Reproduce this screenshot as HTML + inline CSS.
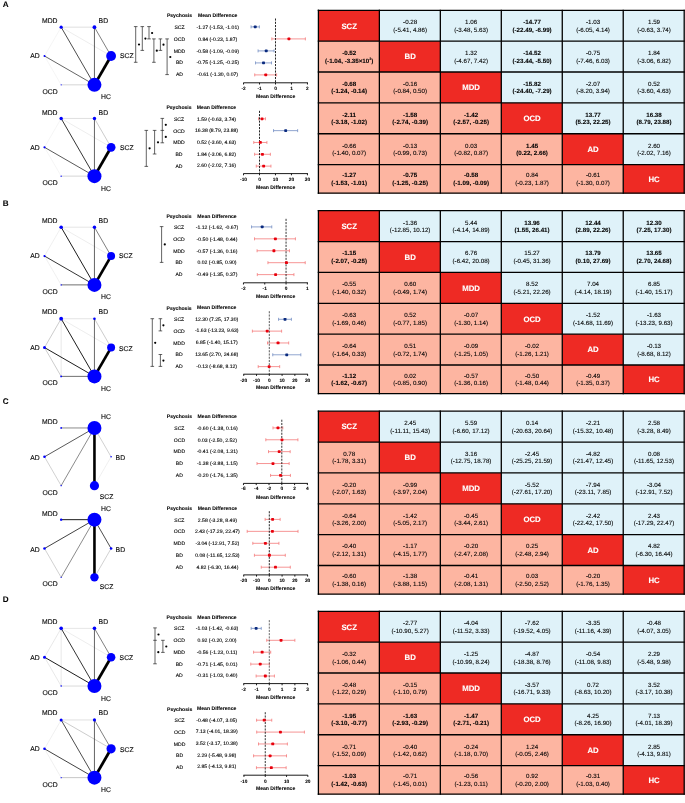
<!DOCTYPE html>
<html lang="en"><head><meta charset="utf-8"><title>Network meta-analysis figure</title>
<style>html,body{margin:0;padding:0;background:#fff}svg{display:block}text{font-family:"Liberation Sans", sans-serif;text-rendering:geometricPrecision;stroke:#000;stroke-width:0.11px}.n{stroke-width:0.14px}.m{stroke-width:0.09px}.b{stroke-width:0.08px}.w{stroke:#fff;stroke-width:0.1px}</style>
</head><body>
<svg width="685" height="803" viewBox="0 0 685 803">
<rect width="685" height="803" fill="#fff"/>
<text x="2.7" y="7.0" font-size="8.1" class="b" font-weight="bold">A</text>
<text x="2.7" y="205.8" font-size="8.1" class="b" font-weight="bold">B</text>
<text x="2.7" y="404.1" font-size="8.1" class="b" font-weight="bold">C</text>
<text x="2.7" y="602.2" font-size="8.1" class="b" font-weight="bold">D</text>
<g>
<line x1="61.15" y1="27.16" x2="44.5" y2="56" stroke="#dedede" stroke-width="0.3"/>
<line x1="44.5" y1="56" x2="61.15" y2="84.84" stroke="#dedede" stroke-width="0.3"/>
<line x1="61.15" y1="27.16" x2="94.45" y2="27.16" stroke="#cbcbcb" stroke-width="0.6"/>
<line x1="61.15" y1="27.16" x2="111.1" y2="56" stroke="#cbcbcb" stroke-width="0.35"/>
<line x1="94.45" y1="84.84" x2="61.15" y2="84.84" stroke="#cbcbcb" stroke-width="0.8"/>
<line x1="94.45" y1="27.16" x2="111.1" y2="56" stroke="#2a2a2a" stroke-width="0.6"/>
<line x1="94.45" y1="84.84" x2="94.45" y2="27.16" stroke="#111" stroke-width="0.65"/>
<line x1="94.45" y1="84.84" x2="61.15" y2="27.16" stroke="#111" stroke-width="0.75"/>
<line x1="94.45" y1="84.84" x2="44.5" y2="56" stroke="#111" stroke-width="0.65"/>
<line x1="94.45" y1="84.84" x2="111.1" y2="56" stroke="#000" stroke-width="2.8"/>
<circle cx="94.45" cy="84.84" r="7.0" fill="#0000ff"/>
<circle cx="111.1" cy="56" r="4.9" fill="#0000ff"/>
<circle cx="94.45" cy="27.16" r="1.9" fill="#0000ff"/>
<circle cx="61.15" cy="27.16" r="1.6" fill="#0000ff"/>
<circle cx="44.5" cy="56" r="1.0" fill="#0000ff"/>
<circle cx="61.15" cy="84.84" r="0.6" fill="#0000ff"/>
<text class="n" x="57.5" y="22.8" font-size="6.8" text-anchor="end" fill="#111">MDD</text>
<text class="n" x="98.6" y="22.8" font-size="6.8" text-anchor="start" fill="#111">BD</text>
<text class="n" x="120.0" y="58.4" font-size="6.8" text-anchor="start" fill="#111">SCZ</text>
<text class="n" x="39.6" y="58.4" font-size="6.8" text-anchor="end" fill="#111">AD</text>
<text class="n" x="57.6" y="93.7" font-size="6.8" text-anchor="end" fill="#111">OCD</text>
<text class="n" x="101.0" y="99.3" font-size="6.8" text-anchor="start" fill="#111">HC</text>
</g>
<g>
<line x1="61.15" y1="118.46" x2="44.5" y2="147.3" stroke="#dedede" stroke-width="0.3"/>
<line x1="44.5" y1="147.3" x2="61.15" y2="176.14" stroke="#dedede" stroke-width="0.3"/>
<line x1="61.15" y1="118.46" x2="94.45" y2="118.46" stroke="#cbcbcb" stroke-width="0.6"/>
<line x1="61.15" y1="118.46" x2="111.1" y2="147.3" stroke="#cbcbcb" stroke-width="0.35"/>
<line x1="94.45" y1="176.14" x2="61.15" y2="176.14" stroke="#cbcbcb" stroke-width="0.8"/>
<line x1="94.45" y1="118.46" x2="111.1" y2="147.3" stroke="#8c8c8c" stroke-width="0.45"/>
<line x1="94.45" y1="176.14" x2="94.45" y2="118.46" stroke="#111" stroke-width="0.65"/>
<line x1="94.45" y1="176.14" x2="61.15" y2="118.46" stroke="#111" stroke-width="0.85"/>
<line x1="94.45" y1="176.14" x2="44.5" y2="147.3" stroke="#111" stroke-width="0.7"/>
<line x1="94.45" y1="176.14" x2="111.1" y2="147.3" stroke="#000" stroke-width="2.8"/>
<circle cx="94.45" cy="176.14" r="7.0" fill="#0000ff"/>
<circle cx="111.1" cy="147.3" r="4.4" fill="#0000ff"/>
<circle cx="94.45" cy="118.46" r="1.7" fill="#0000ff"/>
<circle cx="61.15" cy="118.46" r="1.7" fill="#0000ff"/>
<circle cx="44.5" cy="147.3" r="1.1" fill="#0000ff"/>
<circle cx="61.15" cy="176.14" r="0.7" fill="#0000ff"/>
<text class="n" x="57.5" y="114.6" font-size="6.8" text-anchor="end" fill="#111">MDD</text>
<text class="n" x="98.6" y="114.6" font-size="6.8" text-anchor="start" fill="#111">BD</text>
<text class="n" x="120.0" y="149.7" font-size="6.8" text-anchor="start" fill="#111">SCZ</text>
<text class="n" x="39.6" y="149.7" font-size="6.8" text-anchor="end" fill="#111">AD</text>
<text class="n" x="57.6" y="185.3" font-size="6.8" text-anchor="end" fill="#111">OCD</text>
<text class="n" x="101.0" y="190.9" font-size="6.8" text-anchor="start" fill="#111">HC</text>
</g>
<g>
<line x1="61.15" y1="227.21" x2="44.5" y2="256.05" stroke="#cbcbcb" stroke-width="0.3"/>
<line x1="44.5" y1="256.05" x2="61.15" y2="284.89" stroke="#cbcbcb" stroke-width="0.3"/>
<line x1="61.15" y1="227.21" x2="94.45" y2="227.21" stroke="#cbcbcb" stroke-width="0.5"/>
<line x1="61.15" y1="227.21" x2="111.1" y2="256.05" stroke="#cbcbcb" stroke-width="0.35"/>
<line x1="94.45" y1="284.89" x2="61.15" y2="284.89" stroke="#111" stroke-width="0.6"/>
<line x1="94.45" y1="227.21" x2="111.1" y2="256.05" stroke="#2a2a2a" stroke-width="0.6"/>
<line x1="94.45" y1="284.89" x2="94.45" y2="227.21" stroke="#111" stroke-width="0.65"/>
<line x1="94.45" y1="284.89" x2="61.15" y2="227.21" stroke="#111" stroke-width="0.95"/>
<line x1="94.45" y1="284.89" x2="44.5" y2="256.05" stroke="#111" stroke-width="0.85"/>
<line x1="94.45" y1="284.89" x2="111.1" y2="256.05" stroke="#000" stroke-width="2.7"/>
<circle cx="94.45" cy="284.89" r="7.0" fill="#0000ff"/>
<circle cx="111.1" cy="256.05" r="4.0" fill="#0000ff"/>
<circle cx="94.45" cy="227.21" r="1.7" fill="#0000ff"/>
<circle cx="61.15" cy="227.21" r="1.8" fill="#0000ff"/>
<circle cx="44.5" cy="256.05" r="1.1" fill="#0000ff"/>
<circle cx="61.15" cy="284.89" r="0.7" fill="#0000ff"/>
<text class="n" x="57.5" y="223.15" font-size="6.8" text-anchor="end" fill="#111">MDD</text>
<text class="n" x="98.6" y="223.15" font-size="6.8" text-anchor="start" fill="#111">BD</text>
<text class="n" x="119.0" y="258.45" font-size="6.8" text-anchor="start" fill="#111">SCZ</text>
<text class="n" x="39.6" y="258.45" font-size="6.8" text-anchor="end" fill="#111">AD</text>
<text class="n" x="57.6" y="293.75" font-size="6.8" text-anchor="end" fill="#111">OCD</text>
<text class="n" x="101.0" y="299.35" font-size="6.8" text-anchor="start" fill="#111">HC</text>
</g>
<g>
<line x1="61.15" y1="318.71" x2="61.15" y2="376.39" stroke="#cbcbcb" stroke-width="0.45"/>
<line x1="61.15" y1="318.71" x2="44.5" y2="347.55" stroke="#8c8c8c" stroke-width="0.45"/>
<line x1="44.5" y1="347.55" x2="61.15" y2="376.39" stroke="#8c8c8c" stroke-width="0.45"/>
<line x1="61.15" y1="318.71" x2="94.45" y2="318.71" stroke="#cbcbcb" stroke-width="0.5"/>
<line x1="61.15" y1="318.71" x2="111.1" y2="347.55" stroke="#cbcbcb" stroke-width="0.35"/>
<line x1="94.45" y1="376.39" x2="61.15" y2="376.39" stroke="#111" stroke-width="0.6"/>
<line x1="94.45" y1="318.71" x2="111.1" y2="347.55" stroke="#8c8c8c" stroke-width="0.45"/>
<line x1="94.45" y1="376.39" x2="94.45" y2="318.71" stroke="#2a2a2a" stroke-width="0.7"/>
<line x1="94.45" y1="376.39" x2="61.15" y2="318.71" stroke="#111" stroke-width="0.95"/>
<line x1="94.45" y1="376.39" x2="44.5" y2="347.55" stroke="#111" stroke-width="0.95"/>
<line x1="94.45" y1="376.39" x2="111.1" y2="347.55" stroke="#000" stroke-width="2.7"/>
<circle cx="94.45" cy="376.39" r="7.0" fill="#0000ff"/>
<circle cx="111.1" cy="347.55" r="4.0" fill="#0000ff"/>
<circle cx="94.45" cy="318.71" r="1.3" fill="#0000ff"/>
<circle cx="61.15" cy="318.71" r="1.9" fill="#0000ff"/>
<circle cx="44.5" cy="347.55" r="1.5" fill="#0000ff"/>
<circle cx="61.15" cy="376.39" r="0.9" fill="#0000ff"/>
<text class="n" x="57.5" y="314.35" font-size="6.8" text-anchor="end" fill="#111">MDD</text>
<text class="n" x="98.6" y="313.95" font-size="6.8" text-anchor="start" fill="#111">BD</text>
<text class="n" x="119.0" y="350.85" font-size="6.8" text-anchor="start" fill="#111">SCZ</text>
<text class="n" x="39.6" y="349.95" font-size="6.8" text-anchor="end" fill="#111">AD</text>
<text class="n" x="57.6" y="385.25" font-size="6.8" text-anchor="end" fill="#111">OCD</text>
<text class="n" x="101.0" y="390.85" font-size="6.8" text-anchor="start" fill="#111">HC</text>
</g>
<g>
<line x1="111.1" y1="456.8" x2="94.45" y2="485.64" stroke="#cbcbcb" stroke-width="0.3"/>
<line x1="44.5" y1="456.8" x2="61.15" y2="485.64" stroke="#8c8c8c" stroke-width="0.4"/>
<line x1="94.45" y1="427.96" x2="61.15" y2="485.64" stroke="#2a2a2a" stroke-width="0.55"/>
<line x1="94.45" y1="427.96" x2="111.1" y2="456.8" stroke="#8c8c8c" stroke-width="0.4"/>
<line x1="94.45" y1="427.96" x2="61.15" y2="427.96" stroke="#8c8c8c" stroke-width="1.0"/>
<line x1="94.45" y1="427.96" x2="44.5" y2="456.8" stroke="#111" stroke-width="0.7"/>
<line x1="94.45" y1="427.96" x2="94.45" y2="485.64" stroke="#000" stroke-width="2.6"/>
<circle cx="94.45" cy="427.96" r="7.0" fill="#0000ff"/>
<circle cx="94.45" cy="485.64" r="4.6" fill="#0000ff"/>
<circle cx="111.1" cy="456.8" r="0.8" fill="#0000ff"/>
<circle cx="61.15" cy="427.96" r="0.9" fill="#0000ff"/>
<circle cx="44.5" cy="456.8" r="1.3" fill="#0000ff"/>
<circle cx="61.15" cy="485.64" r="0.7" fill="#0000ff"/>
<text class="n" x="57.6" y="423.7" font-size="6.8" text-anchor="end" fill="#111">MDD</text>
<text class="n" x="101.0" y="418.8" font-size="6.8" text-anchor="start" fill="#111">HC</text>
<text class="n" x="115.6" y="459.8" font-size="6.8" text-anchor="start" fill="#111">BD</text>
<text class="n" x="39.6" y="459.9" font-size="6.8" text-anchor="end" fill="#111">AD</text>
<text class="n" x="57.6" y="495" font-size="6.8" text-anchor="end" fill="#111">OCD</text>
<text class="n" x="99.8" y="498.6" font-size="6.8" text-anchor="start" fill="#111">SCZ</text>
</g>
<g>
<line x1="111.1" y1="548.5" x2="94.45" y2="577.34" stroke="#8c8c8c" stroke-width="0.4"/>
<line x1="44.5" y1="548.5" x2="61.15" y2="577.34" stroke="#8c8c8c" stroke-width="0.4"/>
<line x1="94.45" y1="519.66" x2="61.15" y2="577.34" stroke="#2a2a2a" stroke-width="0.55"/>
<line x1="94.45" y1="519.66" x2="111.1" y2="548.5" stroke="#111" stroke-width="0.75"/>
<line x1="94.45" y1="519.66" x2="61.15" y2="519.66" stroke="#111" stroke-width="0.95"/>
<line x1="94.45" y1="519.66" x2="44.5" y2="548.5" stroke="#111" stroke-width="0.8"/>
<line x1="94.45" y1="519.66" x2="94.45" y2="577.34" stroke="#000" stroke-width="2.6"/>
<circle cx="94.45" cy="519.66" r="7.0" fill="#0000ff"/>
<circle cx="94.45" cy="577.34" r="4.2" fill="#0000ff"/>
<circle cx="111.1" cy="548.5" r="1.3" fill="#0000ff"/>
<circle cx="61.15" cy="519.66" r="1.2" fill="#0000ff"/>
<circle cx="44.5" cy="548.5" r="1.3" fill="#0000ff"/>
<circle cx="61.15" cy="577.34" r="0.6" fill="#0000ff"/>
<text class="n" x="57.6" y="515.7" font-size="6.8" text-anchor="end" fill="#111">MDD</text>
<text class="n" x="101.0" y="510.5" font-size="6.8" text-anchor="start" fill="#111">HC</text>
<text class="n" x="115.6" y="551.5" font-size="6.8" text-anchor="start" fill="#111">BD</text>
<text class="n" x="39.6" y="552.3" font-size="6.8" text-anchor="end" fill="#111">AD</text>
<text class="n" x="57.6" y="586" font-size="6.8" text-anchor="end" fill="#111">OCD</text>
<text class="n" x="99.8" y="589.3" font-size="6.8" text-anchor="start" fill="#111">SCZ</text>
</g>
<g>
<line x1="61.15" y1="628.36" x2="61.15" y2="686.04" stroke="#cbcbcb" stroke-width="0.45"/>
<line x1="61.15" y1="628.36" x2="44.5" y2="657.2" stroke="#bdbdbd" stroke-width="0.35"/>
<line x1="44.5" y1="657.2" x2="61.15" y2="686.04" stroke="#bdbdbd" stroke-width="0.35"/>
<line x1="61.15" y1="628.36" x2="94.45" y2="628.36" stroke="#cbcbcb" stroke-width="0.5"/>
<line x1="61.15" y1="628.36" x2="111.1" y2="657.2" stroke="#cbcbcb" stroke-width="0.35"/>
<line x1="94.45" y1="686.04" x2="61.15" y2="686.04" stroke="#cbcbcb" stroke-width="0.7"/>
<line x1="94.45" y1="628.36" x2="111.1" y2="657.2" stroke="#2a2a2a" stroke-width="0.6"/>
<line x1="94.45" y1="686.04" x2="94.45" y2="628.36" stroke="#111" stroke-width="0.65"/>
<line x1="94.45" y1="686.04" x2="61.15" y2="628.36" stroke="#111" stroke-width="0.85"/>
<line x1="94.45" y1="686.04" x2="44.5" y2="657.2" stroke="#111" stroke-width="0.95"/>
<line x1="94.45" y1="686.04" x2="111.1" y2="657.2" stroke="#000" stroke-width="2.7"/>
<circle cx="94.45" cy="686.04" r="7.0" fill="#0000ff"/>
<circle cx="111.1" cy="657.2" r="4.3" fill="#0000ff"/>
<circle cx="94.45" cy="628.36" r="1.8" fill="#0000ff"/>
<circle cx="61.15" cy="628.36" r="1.8" fill="#0000ff"/>
<circle cx="44.5" cy="657.2" r="1.5" fill="#0000ff"/>
<circle cx="61.15" cy="686.04" r="0.8" fill="#0000ff"/>
<text class="n" x="57.5" y="623.6" font-size="6.8" text-anchor="end" fill="#111">MDD</text>
<text class="n" x="98.6" y="624" font-size="6.8" text-anchor="start" fill="#111">BD</text>
<text class="n" x="119.6" y="659.9" font-size="6.8" text-anchor="start" fill="#111">SCZ</text>
<text class="n" x="39.6" y="659.6" font-size="6.8" text-anchor="end" fill="#111">AD</text>
<text class="n" x="57.6" y="694.9" font-size="6.8" text-anchor="end" fill="#111">OCD</text>
<text class="n" x="101.0" y="700.5" font-size="6.8" text-anchor="start" fill="#111">HC</text>
</g>
<g>
<line x1="61.15" y1="719.96" x2="44.5" y2="748.8" stroke="#cbcbcb" stroke-width="0.3"/>
<line x1="44.5" y1="748.8" x2="61.15" y2="777.64" stroke="#cbcbcb" stroke-width="0.3"/>
<line x1="61.15" y1="719.96" x2="94.45" y2="719.96" stroke="#cbcbcb" stroke-width="0.6"/>
<line x1="61.15" y1="719.96" x2="111.1" y2="748.8" stroke="#8c8c8c" stroke-width="0.45"/>
<line x1="94.45" y1="777.64" x2="61.15" y2="777.64" stroke="#8c8c8c" stroke-width="0.5"/>
<line x1="94.45" y1="719.96" x2="111.1" y2="748.8" stroke="#2a2a2a" stroke-width="0.6"/>
<line x1="94.45" y1="777.64" x2="94.45" y2="719.96" stroke="#111" stroke-width="0.65"/>
<line x1="94.45" y1="777.64" x2="61.15" y2="719.96" stroke="#111" stroke-width="0.75"/>
<line x1="94.45" y1="777.64" x2="44.5" y2="748.8" stroke="#111" stroke-width="0.8"/>
<line x1="94.45" y1="777.64" x2="111.1" y2="748.8" stroke="#000" stroke-width="2.8"/>
<circle cx="94.45" cy="777.64" r="7.0" fill="#0000ff"/>
<circle cx="111.1" cy="748.8" r="4.6" fill="#0000ff"/>
<circle cx="94.45" cy="719.96" r="1.6" fill="#0000ff"/>
<circle cx="61.15" cy="719.96" r="1.5" fill="#0000ff"/>
<circle cx="44.5" cy="748.8" r="1.3" fill="#0000ff"/>
<circle cx="61.15" cy="777.64" r="0.6" fill="#0000ff"/>
<text class="n" x="57.5" y="715.1" font-size="6.8" text-anchor="end" fill="#111">MDD</text>
<text class="n" x="98.6" y="715.1" font-size="6.8" text-anchor="start" fill="#111">BD</text>
<text class="n" x="120.0" y="751.9" font-size="6.8" text-anchor="start" fill="#111">SCZ</text>
<text class="n" x="39.6" y="751.2" font-size="6.8" text-anchor="end" fill="#111">AD</text>
<text class="n" x="57.6" y="786.5" font-size="6.8" text-anchor="end" fill="#111">OCD</text>
<text class="n" x="101.0" y="792.1" font-size="6.8" text-anchor="start" fill="#111">HC</text>
</g>
<g>
<text x="179.5" y="17.4" font-size="5.1" class="b" font-weight="bold" text-anchor="middle">Psychosis</text>
<text x="217.7" y="17.4" font-size="5.1" class="b" font-weight="bold" text-anchor="middle">Mean Difference</text>
<path d="M135.7 26.6V62.3M133.9 26.6h3.6M133.9 62.3h3.6" stroke="#222" stroke-width="0.7" fill="none"/>
<circle cx="139" cy="44.5" r="1.1" fill="#000"/>
<path d="M142.3 26.6V50.4M140.5 26.6h3.6M140.5 50.4h3.6" stroke="#222" stroke-width="0.7" fill="none"/>
<circle cx="145.4" cy="38.6" r="1.1" fill="#000"/>
<path d="M149 26.6V38.9M147.2 26.6h3.6M147.2 38.9h3.6" stroke="#222" stroke-width="0.7" fill="none"/>
<circle cx="152.1" cy="33" r="1.1" fill="#000"/>
<path d="M153.9 38.9V62.3M152.1 38.9h3.6M152.1 62.3h3.6" stroke="#222" stroke-width="0.7" fill="none"/>
<circle cx="156.8" cy="50.7" r="1.1" fill="#000"/>
<path d="M160.4 38.9V50.4M158.6 38.9h3.6M158.6 50.4h3.6" stroke="#222" stroke-width="0.7" fill="none"/>
<circle cx="163.5" cy="44.7" r="1.1" fill="#000"/>
<path d="M167.1 38.9V74.6M165.3 38.9h3.6M165.3 74.6h3.6" stroke="#222" stroke-width="0.7" fill="none"/>
<circle cx="170.3" cy="57" r="1.1" fill="#000"/>
<text x="179.5" y="29.13" font-size="5.1" text-anchor="middle">SCZ</text>
<text x="217.7" y="29.13" font-size="5.1" text-anchor="middle">-1.27 (-1.53, -1.01)</text>
<path d="M251.06 26.9H259.37M251.06 25.4v3M259.37 25.4v3" stroke="#748ec3" stroke-width="0.8" fill="none"/>
<text x="179.5" y="40.91" font-size="5.1" text-anchor="middle">OCD</text>
<text x="217.7" y="40.91" font-size="5.1" text-anchor="middle">0.84 (-0.23, 1.87)</text>
<path d="M271.83 38.9H305.37M271.83 37.4v3M305.37 37.4v3" stroke="#f47a7a" stroke-width="0.8" fill="none"/>
<text x="179.5" y="52.69" font-size="5.1" text-anchor="middle">MDD</text>
<text x="217.7" y="52.69" font-size="5.1" text-anchor="middle">-0.58 (-1.09, -0.09)</text>
<path d="M258.09 50.9H274.06M258.09 49.4v3M274.06 49.4v3" stroke="#748ec3" stroke-width="0.8" fill="none"/>
<text x="179.5" y="64.47" font-size="5.1" text-anchor="middle">BD</text>
<text x="217.7" y="64.47" font-size="5.1" text-anchor="middle">-0.75 (-1.25, -0.25)</text>
<path d="M255.53 62.9H271.51M255.53 61.4v3M271.51 61.4v3" stroke="#748ec3" stroke-width="0.8" fill="none"/>
<text x="179.5" y="76.25" font-size="5.1" text-anchor="middle">AD</text>
<text x="217.7" y="76.25" font-size="5.1" text-anchor="middle">-0.61 (-1.30, 0.07)</text>
<path d="M254.73 74.9H276.62M254.73 73.4v3M276.62 73.4v3" stroke="#f47a7a" stroke-width="0.8" fill="none"/>
<line x1="275.5" y1="18.5" x2="275.5" y2="82.8" stroke="#000" stroke-width="0.85" stroke-dasharray="2.1 1.15"/>
<rect x="253.76" y="25.5" width="2.9" height="2.8" rx="0.7" fill="#0a2a7e"/>
<rect x="287.47" y="37.5" width="2.9" height="2.8" rx="0.7" fill="#e8000c"/>
<rect x="264.78" y="49.5" width="2.9" height="2.8" rx="0.7" fill="#0a2a7e"/>
<rect x="262.07" y="61.5" width="2.9" height="2.8" rx="0.7" fill="#0a2a7e"/>
<rect x="264.31" y="73.5" width="2.9" height="2.8" rx="0.7" fill="#e8000c"/>
<path d="M243.4 82.8H307.9M243.55 82.8v1.7M259.53 82.8v1.7M275.5 82.8v1.7M291.48 82.8v1.7M307.45 82.8v1.7" stroke="#000" stroke-width="0.9" fill="none"/>
<text x="243.55" y="89.8" font-size="4.8" class="b" font-weight="bold" text-anchor="middle">-2</text>
<text x="259.53" y="89.8" font-size="4.8" class="b" font-weight="bold" text-anchor="middle">-1</text>
<text x="275.5" y="89.8" font-size="4.8" class="b" font-weight="bold" text-anchor="middle">0</text>
<text x="291.48" y="89.8" font-size="4.8" class="b" font-weight="bold" text-anchor="middle">1</text>
<text x="307.45" y="89.8" font-size="4.8" class="b" font-weight="bold" text-anchor="middle">2</text>
<text x="275.6" y="97.6" font-size="5.1" class="b" font-weight="bold" text-anchor="middle">Mean Difference</text>
</g>
<g>
<text x="179" y="109.15" font-size="5.1" class="b" font-weight="bold" text-anchor="middle">Psychosis</text>
<text x="216.5" y="108.85" font-size="5.1" class="b" font-weight="bold" text-anchor="middle">Mean Difference</text>
<path d="M146.3 130.4V166.4M144.5 130.4h3.6M144.5 166.4h3.6" stroke="#222" stroke-width="0.7" fill="none"/>
<circle cx="149.6" cy="148.3" r="1.1" fill="#000"/>
<path d="M154.6 130.4V154M152.8 130.4h3.6M152.8 154h3.6" stroke="#222" stroke-width="0.7" fill="none"/>
<circle cx="158" cy="142.3" r="1.1" fill="#000"/>
<path d="M162.3 118.4V142.8M160.5 118.4h3.6M160.5 130.4h3.6M160.5 142.8h3.6" stroke="#222" stroke-width="0.7" fill="none"/>
<circle cx="165.8" cy="124.8" r="1.1" fill="#000"/>
<circle cx="165.8" cy="136.9" r="1.1" fill="#000"/>
<text x="179" y="121.13" font-size="5.1" text-anchor="middle">SCZ</text>
<text x="216.5" y="120.83" font-size="5.1" text-anchor="middle">1.59 (-0.63, 3.74)</text>
<path d="M258.49 118.8H265.47M258.49 117.3v3M265.47 117.3v3" stroke="#f47a7a" stroke-width="0.8" fill="none"/>
<text x="179" y="132.78" font-size="5.1" text-anchor="middle">OCD</text>
<text x="216.5" y="132.48" font-size="5.1" text-anchor="middle">16.38 (8.79, 23.88)</text>
<path d="M273.54 130.63H297.65M273.54 129.13v3M297.65 129.13v3" stroke="#748ec3" stroke-width="0.8" fill="none"/>
<text x="179" y="144.43" font-size="5.1" text-anchor="middle">MDD</text>
<text x="216.5" y="144.13" font-size="5.1" text-anchor="middle">0.52 (-3.60, 4.63)</text>
<path d="M253.75 142.46H266.9M253.75 140.96v3M266.9 140.96v3" stroke="#f47a7a" stroke-width="0.8" fill="none"/>
<text x="179" y="156.08" font-size="5.1" text-anchor="middle">BD</text>
<text x="216.5" y="155.78" font-size="5.1" text-anchor="middle">1.84 (-3.06, 6.82)</text>
<path d="M254.61 154.29H270.39M254.61 152.79v3M270.39 152.79v3" stroke="#f47a7a" stroke-width="0.8" fill="none"/>
<text x="179" y="167.73" font-size="5.1" text-anchor="middle">AD</text>
<text x="216.5" y="167.43" font-size="5.1" text-anchor="middle">2.60 (-2.02, 7.16)</text>
<path d="M256.27 166.12H270.94M256.27 164.62v3M270.94 164.62v3" stroke="#f47a7a" stroke-width="0.8" fill="none"/>
<line x1="259.5" y1="110.8" x2="259.5" y2="173.6" stroke="#000" stroke-width="0.85" stroke-dasharray="2.1 1.15"/>
<rect x="260.59" y="117.4" width="2.9" height="2.8" rx="0.7" fill="#e8000c"/>
<rect x="284.22" y="129.23" width="2.9" height="2.8" rx="0.7" fill="#0a2a7e"/>
<rect x="258.88" y="141.06" width="2.9" height="2.8" rx="0.7" fill="#e8000c"/>
<rect x="260.99" y="152.89" width="2.9" height="2.8" rx="0.7" fill="#e8000c"/>
<rect x="262.2" y="164.72" width="2.9" height="2.8" rx="0.7" fill="#e8000c"/>
<path d="M243.4 173.6H307.9M243.52 173.6v1.7M259.5 173.6v1.7M275.47 173.6v1.7M291.45 173.6v1.7M307.43 173.6v1.7" stroke="#000" stroke-width="0.9" fill="none"/>
<text x="243.52" y="181.2" font-size="4.8" class="b" font-weight="bold" text-anchor="middle">-10</text>
<text x="259.5" y="181.2" font-size="4.8" class="b" font-weight="bold" text-anchor="middle">0</text>
<text x="275.47" y="181.2" font-size="4.8" class="b" font-weight="bold" text-anchor="middle">10</text>
<text x="291.45" y="181.2" font-size="4.8" class="b" font-weight="bold" text-anchor="middle">20</text>
<text x="307.43" y="181.2" font-size="4.8" class="b" font-weight="bold" text-anchor="middle">30</text>
<text x="275.6" y="188.7" font-size="5.1" class="b" font-weight="bold" text-anchor="middle">Mean Difference</text>
</g>
<g>
<text x="179" y="217.6" font-size="5.1" class="b" font-weight="bold" text-anchor="middle">Psychosis</text>
<text x="217" y="217.6" font-size="5.1" class="b" font-weight="bold" text-anchor="middle">Mean Difference</text>
<path d="M161.6 226.6V262.4M159.8 226.6h3.6M159.8 262.4h3.6" stroke="#222" stroke-width="0.7" fill="none"/>
<circle cx="164.8" cy="244.4" r="1.1" fill="#000"/>
<text x="179" y="229.13" font-size="5.1" text-anchor="middle">SCZ</text>
<text x="217" y="229.13" font-size="5.1" text-anchor="middle">-1.12 (-1.62, -0.67)</text>
<path d="M251.54 226.9H271.78M251.54 225.4v3M271.78 225.4v3" stroke="#748ec3" stroke-width="0.8" fill="none"/>
<text x="179" y="240.82" font-size="5.1" text-anchor="middle">OCD</text>
<text x="217" y="240.82" font-size="5.1" text-anchor="middle">-0.50 (-1.48, 0.44)</text>
<path d="M254.53 238.83H295.42M254.53 237.33v3M295.42 237.33v3" stroke="#f47a7a" stroke-width="0.8" fill="none"/>
<text x="179" y="252.51" font-size="5.1" text-anchor="middle">MDD</text>
<text x="217" y="252.51" font-size="5.1" text-anchor="middle">-0.57 (-1.36, 0.16)</text>
<path d="M257.08 250.76H289.46M257.08 249.26v3M289.46 249.26v3" stroke="#f47a7a" stroke-width="0.8" fill="none"/>
<text x="179" y="264.2" font-size="5.1" text-anchor="middle">BD</text>
<text x="217" y="264.2" font-size="5.1" text-anchor="middle">0.02 (-0.85, 0.90)</text>
<path d="M267.94 262.69H305.22M267.94 261.19v3M305.22 261.19v3" stroke="#f47a7a" stroke-width="0.8" fill="none"/>
<text x="179" y="275.89" font-size="5.1" text-anchor="middle">AD</text>
<text x="217" y="275.89" font-size="5.1" text-anchor="middle">-0.49 (-1.35, 0.37)</text>
<path d="M257.3 274.62H293.93M257.3 273.12v3M293.93 273.12v3" stroke="#f47a7a" stroke-width="0.8" fill="none"/>
<line x1="286.05" y1="218.8" x2="286.05" y2="282.8" stroke="#000" stroke-width="0.8" stroke-dasharray="2.1 1.15"/>
<rect x="260.74" y="225.5" width="2.9" height="2.8" rx="0.7" fill="#0a2a7e"/>
<rect x="273.95" y="237.43" width="2.9" height="2.8" rx="0.7" fill="#e8000c"/>
<rect x="272.46" y="249.36" width="2.9" height="2.8" rx="0.7" fill="#e8000c"/>
<rect x="285.03" y="261.29" width="2.9" height="2.8" rx="0.7" fill="#e8000c"/>
<rect x="274.16" y="273.22" width="2.9" height="2.8" rx="0.7" fill="#e8000c"/>
<path d="M243.4 282.8H307.9M243.45 282.8v1.7M264.75 282.8v1.7M286.05 282.8v1.7M307.35 282.8v1.7" stroke="#000" stroke-width="0.9" fill="none"/>
<text x="243.45" y="289.8" font-size="4.8" class="b" font-weight="bold" text-anchor="middle">-2</text>
<text x="264.75" y="289.8" font-size="4.8" class="b" font-weight="bold" text-anchor="middle">-1</text>
<text x="286.05" y="289.8" font-size="4.8" class="b" font-weight="bold" text-anchor="middle">0</text>
<text x="307.35" y="289.8" font-size="4.8" class="b" font-weight="bold" text-anchor="middle">1</text>
<text x="275.6" y="297.6" font-size="5.1" class="b" font-weight="bold" text-anchor="middle">Mean Difference</text>
</g>
<g>
<text x="179.1" y="309.7" font-size="5.1" class="b" font-weight="bold" text-anchor="middle">Psychosis</text>
<text x="216.7" y="309.1" font-size="5.1" class="b" font-weight="bold" text-anchor="middle">Mean Difference</text>
<path d="M152.3 318.7V366.4M150.5 318.7h3.6M150.5 366.4h3.6" stroke="#222" stroke-width="0.7" fill="none"/>
<circle cx="155.2" cy="342.8" r="1.1" fill="#000"/>
<path d="M160.4 318.7V330.9M158.6 318.7h3.6M158.6 330.9h3.6" stroke="#222" stroke-width="0.7" fill="none"/>
<circle cx="163.4" cy="325.3" r="1.1" fill="#000"/>
<path d="M160.4 354.5V366.4M158.6 354.5h3.6M158.6 366.4h3.6" stroke="#222" stroke-width="0.7" fill="none"/>
<circle cx="163.4" cy="360.6" r="1.1" fill="#000"/>
<text x="179.1" y="321.13" font-size="5.1" text-anchor="middle">SCZ</text>
<text x="216.7" y="320.53" font-size="5.1" text-anchor="middle">12.30 (7.25, 17.30)</text>
<path d="M278.57 319.3H291.41M278.57 317.8v3M291.41 317.8v3" stroke="#748ec3" stroke-width="0.8" fill="none"/>
<text x="179.1" y="332.88" font-size="5.1" text-anchor="middle">OCD</text>
<text x="216.7" y="332.28" font-size="5.1" text-anchor="middle">-1.63 (-13.23, 9.63)</text>
<path d="M252.39 331.13H281.61M252.39 329.63v3M281.61 329.63v3" stroke="#f47a7a" stroke-width="0.8" fill="none"/>
<text x="179.1" y="344.63" font-size="5.1" text-anchor="middle">MDD</text>
<text x="216.7" y="344.03" font-size="5.1" text-anchor="middle">6.85 (-1.40, 15.17)</text>
<path d="M267.51 342.96H288.69M267.51 341.46v3M288.69 341.46v3" stroke="#f47a7a" stroke-width="0.8" fill="none"/>
<text x="179.1" y="356.38" font-size="5.1" text-anchor="middle">BD</text>
<text x="216.7" y="355.78" font-size="5.1" text-anchor="middle">13.65 (2.70, 24.68)</text>
<path d="M272.75 354.79H300.84M272.75 353.29v3M300.84 353.29v3" stroke="#748ec3" stroke-width="0.8" fill="none"/>
<text x="179.1" y="368.13" font-size="5.1" text-anchor="middle">AD</text>
<text x="216.7" y="367.53" font-size="5.1" text-anchor="middle">-0.13 (-8.68, 8.12)</text>
<path d="M258.21 366.62H279.68M258.21 365.12v3M279.68 365.12v3" stroke="#f47a7a" stroke-width="0.8" fill="none"/>
<line x1="269.3" y1="311.2" x2="269.3" y2="374.2" stroke="#2e2e2e" stroke-width="0.78" stroke-dasharray="2.1 1.15"/>
<rect x="283.57" y="317.9" width="2.9" height="2.8" rx="0.7" fill="#0a2a7e"/>
<rect x="265.77" y="329.73" width="2.9" height="2.8" rx="0.7" fill="#e8000c"/>
<rect x="276.6" y="341.56" width="2.9" height="2.8" rx="0.7" fill="#e8000c"/>
<rect x="285.29" y="353.39" width="2.9" height="2.8" rx="0.7" fill="#0a2a7e"/>
<rect x="267.68" y="365.22" width="2.9" height="2.8" rx="0.7" fill="#e8000c"/>
<path d="M243.4 374.2H307.9M243.74 374.2v1.7M256.52 374.2v1.7M269.3 374.2v1.7M282.08 374.2v1.7M294.86 374.2v1.7M307.64 374.2v1.7" stroke="#000" stroke-width="0.9" fill="none"/>
<text x="243.74" y="381.5" font-size="4.8" class="b" font-weight="bold" text-anchor="middle">-20</text>
<text x="256.52" y="381.5" font-size="4.8" class="b" font-weight="bold" text-anchor="middle">-10</text>
<text x="269.3" y="381.5" font-size="4.8" class="b" font-weight="bold" text-anchor="middle">0</text>
<text x="282.08" y="381.5" font-size="4.8" class="b" font-weight="bold" text-anchor="middle">10</text>
<text x="294.86" y="381.5" font-size="4.8" class="b" font-weight="bold" text-anchor="middle">20</text>
<text x="307.64" y="381.5" font-size="4.8" class="b" font-weight="bold" text-anchor="middle">30</text>
<text x="275.6" y="389.4" font-size="5.1" class="b" font-weight="bold" text-anchor="middle">Mean Difference</text>
</g>
<g>
<text x="179.4" y="418.2" font-size="5.1" class="b" font-weight="bold" text-anchor="middle">Psychosis</text>
<text x="217.3" y="418.2" font-size="5.1" class="b" font-weight="bold" text-anchor="middle">Mean Difference</text>
<text x="179.4" y="429.93" font-size="5.1" text-anchor="middle">SCZ</text>
<text x="217.3" y="429.93" font-size="5.1" text-anchor="middle">-0.60 (-1.38, 0.16)</text>
<path d="M272.98 427.9H282.82M272.98 426.4v3M282.82 426.4v3" stroke="#f47a7a" stroke-width="0.8" fill="none"/>
<text x="179.4" y="441.68" font-size="5.1" text-anchor="middle">OCD</text>
<text x="217.3" y="441.68" font-size="5.1" text-anchor="middle">0.03 (-2.50, 2.52)</text>
<path d="M265.82 439.78H297.9M265.82 438.28v3M297.9 438.28v3" stroke="#f47a7a" stroke-width="0.8" fill="none"/>
<text x="179.4" y="453.43" font-size="5.1" text-anchor="middle">MDD</text>
<text x="217.3" y="453.43" font-size="5.1" text-anchor="middle">-0.41 (-2.08, 1.31)</text>
<path d="M268.51 451.66H290.17M268.51 450.16v3M290.17 450.16v3" stroke="#f47a7a" stroke-width="0.8" fill="none"/>
<text x="179.4" y="465.18" font-size="5.1" text-anchor="middle">BD</text>
<text x="217.3" y="465.18" font-size="5.1" text-anchor="middle">-1.38 (-3.88, 1.15)</text>
<path d="M257.01 463.54H289.15M257.01 462.04v3M289.15 462.04v3" stroke="#f47a7a" stroke-width="0.8" fill="none"/>
<text x="179.4" y="476.93" font-size="5.1" text-anchor="middle">AD</text>
<text x="217.3" y="476.93" font-size="5.1" text-anchor="middle">-0.20 (-1.76, 1.35)</text>
<path d="M270.55 475.42H290.43M270.55 473.92v3M290.43 473.92v3" stroke="#f47a7a" stroke-width="0.8" fill="none"/>
<line x1="281.8" y1="419.7" x2="281.8" y2="483.4" stroke="#000" stroke-width="0.8" stroke-dasharray="2.1 1.15"/>
<rect x="276.52" y="426.5" width="2.9" height="2.8" rx="0.7" fill="#e8000c"/>
<rect x="280.54" y="438.38" width="2.9" height="2.8" rx="0.7" fill="#e8000c"/>
<rect x="277.73" y="450.26" width="2.9" height="2.8" rx="0.7" fill="#e8000c"/>
<rect x="271.53" y="462.14" width="2.9" height="2.8" rx="0.7" fill="#e8000c"/>
<rect x="279.07" y="474.02" width="2.9" height="2.8" rx="0.7" fill="#e8000c"/>
<path d="M243.4 483.4H307.9M243.46 483.4v1.7M256.24 483.4v1.7M269.02 483.4v1.7M281.8 483.4v1.7M294.58 483.4v1.7M307.36 483.4v1.7" stroke="#000" stroke-width="0.9" fill="none"/>
<text x="243.46" y="490.4" font-size="4.8" class="b" font-weight="bold" text-anchor="middle">-6</text>
<text x="256.24" y="490.4" font-size="4.8" class="b" font-weight="bold" text-anchor="middle">-4</text>
<text x="269.02" y="490.4" font-size="4.8" class="b" font-weight="bold" text-anchor="middle">-2</text>
<text x="281.8" y="490.4" font-size="4.8" class="b" font-weight="bold" text-anchor="middle">0</text>
<text x="294.58" y="490.4" font-size="4.8" class="b" font-weight="bold" text-anchor="middle">2</text>
<text x="307.36" y="490.4" font-size="4.8" class="b" font-weight="bold" text-anchor="middle">4</text>
<text x="275.6" y="498.6" font-size="5.1" class="b" font-weight="bold" text-anchor="middle">Mean Difference</text>
</g>
<g>
<text x="179.4" y="509.85" font-size="5.1" class="b" font-weight="bold" text-anchor="middle">Psychosis</text>
<text x="217.4" y="509.85" font-size="5.1" class="b" font-weight="bold" text-anchor="middle">Mean Difference</text>
<text x="179.4" y="521.53" font-size="5.1" text-anchor="middle">SCZ</text>
<text x="217.4" y="521.53" font-size="5.1" text-anchor="middle">2.58 (-3.28, 8.49)</text>
<path d="M265.11 519.4H280.15M265.11 517.9v3M280.15 517.9v3" stroke="#f47a7a" stroke-width="0.8" fill="none"/>
<text x="179.4" y="533.28" font-size="5.1" text-anchor="middle">OCD</text>
<text x="217.4" y="533.28" font-size="5.1" text-anchor="middle">2.43 (-17.29, 22.47)</text>
<path d="M247.2 531.35H298.02M247.2 529.85v3M298.02 529.85v3" stroke="#f47a7a" stroke-width="0.8" fill="none"/>
<text x="179.4" y="545.03" font-size="5.1" text-anchor="middle">MDD</text>
<text x="217.4" y="545.03" font-size="5.1" text-anchor="middle">-3.04 (-12.91, 7.52)</text>
<path d="M252.8 543.3H278.91M252.8 541.8v3M278.91 541.8v3" stroke="#f47a7a" stroke-width="0.8" fill="none"/>
<text x="179.4" y="556.78" font-size="5.1" text-anchor="middle">BD</text>
<text x="217.4" y="556.78" font-size="5.1" text-anchor="middle">0.08 (-11.65, 12.53)</text>
<path d="M254.41 555.25H285.31M254.41 553.75v3M285.31 553.75v3" stroke="#f47a7a" stroke-width="0.8" fill="none"/>
<text x="179.4" y="568.53" font-size="5.1" text-anchor="middle">AD</text>
<text x="217.4" y="568.53" font-size="5.1" text-anchor="middle">4.82 (-6.30, 16.44)</text>
<path d="M261.25 567.2H290.31M261.25 565.7v3M290.31 565.7v3" stroke="#f47a7a" stroke-width="0.8" fill="none"/>
<line x1="269.3" y1="511.2" x2="269.3" y2="574.9" stroke="#000" stroke-width="0.85" stroke-dasharray="2.1 1.15"/>
<rect x="271.15" y="518" width="2.9" height="2.8" rx="0.7" fill="#e8000c"/>
<rect x="270.96" y="529.95" width="2.9" height="2.8" rx="0.7" fill="#e8000c"/>
<rect x="263.96" y="541.9" width="2.9" height="2.8" rx="0.7" fill="#e8000c"/>
<rect x="267.95" y="553.85" width="2.9" height="2.8" rx="0.7" fill="#e8000c"/>
<rect x="274.01" y="565.8" width="2.9" height="2.8" rx="0.7" fill="#e8000c"/>
<path d="M243.4 574.9H307.9M243.74 574.9v1.7M256.52 574.9v1.7M269.3 574.9v1.7M282.08 574.9v1.7M294.86 574.9v1.7M307.64 574.9v1.7" stroke="#000" stroke-width="0.9" fill="none"/>
<text x="243.74" y="582.1" font-size="4.8" class="b" font-weight="bold" text-anchor="middle">-20</text>
<text x="256.52" y="582.1" font-size="4.8" class="b" font-weight="bold" text-anchor="middle">-10</text>
<text x="269.3" y="582.1" font-size="4.8" class="b" font-weight="bold" text-anchor="middle">0</text>
<text x="282.08" y="582.1" font-size="4.8" class="b" font-weight="bold" text-anchor="middle">10</text>
<text x="294.86" y="582.1" font-size="4.8" class="b" font-weight="bold" text-anchor="middle">20</text>
<text x="307.64" y="582.1" font-size="4.8" class="b" font-weight="bold" text-anchor="middle">30</text>
<text x="275.6" y="590" font-size="5.1" class="b" font-weight="bold" text-anchor="middle">Mean Difference</text>
</g>
<g>
<text x="179.2" y="618.8" font-size="5.1" class="b" font-weight="bold" text-anchor="middle">Psychosis</text>
<text x="217" y="618.8" font-size="5.1" class="b" font-weight="bold" text-anchor="middle">Mean Difference</text>
<path d="M155 627.9V663.8M153.2 627.9h3.6M153.2 640.3h3.6M153.2 663.8h3.6" stroke="#222" stroke-width="0.7" fill="none"/>
<circle cx="158.5" cy="634.5" r="1.1" fill="#000"/>
<circle cx="158.3" cy="652.2" r="1.1" fill="#000"/>
<path d="M162.9 640.3V652.4M161.1 640.3h3.6M161.1 652.4h3.6" stroke="#222" stroke-width="0.7" fill="none"/>
<circle cx="166.3" cy="646.5" r="1.1" fill="#000"/>
<text x="179.2" y="630.23" font-size="5.1" text-anchor="middle">SCZ</text>
<text x="217" y="630.23" font-size="5.1" text-anchor="middle">-1.03 (-1.42, -0.63)</text>
<path d="M251.15 628.4H261.25M251.15 626.9v3M261.25 626.9v3" stroke="#748ec3" stroke-width="0.8" fill="none"/>
<text x="179.2" y="642.01" font-size="5.1" text-anchor="middle">OCD</text>
<text x="217" y="642.01" font-size="5.1" text-anchor="middle">0.92 (-0.20, 2.00)</text>
<path d="M266.74 640.3H294.86M266.74 638.8v3M294.86 638.8v3" stroke="#f47a7a" stroke-width="0.8" fill="none"/>
<text x="179.2" y="653.79" font-size="5.1" text-anchor="middle">MDD</text>
<text x="217" y="653.79" font-size="5.1" text-anchor="middle">-0.56 (-1.23, 0.11)</text>
<path d="M253.58 652.2H270.71M253.58 650.7v3M270.71 650.7v3" stroke="#f47a7a" stroke-width="0.8" fill="none"/>
<text x="179.2" y="665.57" font-size="5.1" text-anchor="middle">BD</text>
<text x="217" y="665.57" font-size="5.1" text-anchor="middle">-0.71 (-1.45, 0.01)</text>
<path d="M250.77 664.1H269.43M250.77 662.6v3M269.43 662.6v3" stroke="#f47a7a" stroke-width="0.8" fill="none"/>
<text x="179.2" y="677.35" font-size="5.1" text-anchor="middle">AD</text>
<text x="217" y="677.35" font-size="5.1" text-anchor="middle">-0.31 (-1.03, 0.40)</text>
<path d="M256.14 676H274.41M256.14 674.5v3M274.41 674.5v3" stroke="#f47a7a" stroke-width="0.8" fill="none"/>
<line x1="269.3" y1="620.1" x2="269.3" y2="683.6" stroke="#3a3a3a" stroke-width="0.75" stroke-dasharray="2.1 1.15"/>
<rect x="254.69" y="627" width="2.9" height="2.8" rx="0.7" fill="#0a2a7e"/>
<rect x="279.61" y="638.9" width="2.9" height="2.8" rx="0.7" fill="#e8000c"/>
<rect x="260.69" y="650.8" width="2.9" height="2.8" rx="0.7" fill="#e8000c"/>
<rect x="258.78" y="662.7" width="2.9" height="2.8" rx="0.7" fill="#e8000c"/>
<rect x="263.89" y="674.6" width="2.9" height="2.8" rx="0.7" fill="#e8000c"/>
<path d="M243.4 683.6H307.9M243.74 683.6v1.7M256.52 683.6v1.7M269.3 683.6v1.7M282.08 683.6v1.7M294.86 683.6v1.7M307.64 683.6v1.7" stroke="#000" stroke-width="0.9" fill="none"/>
<text x="243.74" y="691.1" font-size="4.8" class="b" font-weight="bold" text-anchor="middle">-2</text>
<text x="256.52" y="691.1" font-size="4.8" class="b" font-weight="bold" text-anchor="middle">-1</text>
<text x="269.3" y="691.1" font-size="4.8" class="b" font-weight="bold" text-anchor="middle">0</text>
<text x="282.08" y="691.1" font-size="4.8" class="b" font-weight="bold" text-anchor="middle">1</text>
<text x="294.86" y="691.1" font-size="4.8" class="b" font-weight="bold" text-anchor="middle">2</text>
<text x="307.64" y="691.1" font-size="4.8" class="b" font-weight="bold" text-anchor="middle">3</text>
<text x="275.6" y="699" font-size="5.1" class="b" font-weight="bold" text-anchor="middle">Mean Difference</text>
</g>
<g>
<text x="179.65" y="710.8" font-size="5.1" class="b" font-weight="bold" text-anchor="middle">Psychosis</text>
<text x="216.7" y="710.1" font-size="5.1" class="b" font-weight="bold" text-anchor="middle">Mean Difference</text>
<text x="179.65" y="722.23" font-size="5.1" text-anchor="middle">SCZ</text>
<text x="216.7" y="721.53" font-size="5.1" text-anchor="middle">-0.48 (-4.07, 3.05)</text>
<path d="M256.58 720.2H271.75M256.58 718.7v3M271.75 718.7v3" stroke="#f47a7a" stroke-width="0.8" fill="none"/>
<text x="179.65" y="733.91" font-size="5.1" text-anchor="middle">OCD</text>
<text x="216.7" y="733.21" font-size="5.1" text-anchor="middle">7.13 (-4.01, 18.39)</text>
<path d="M256.71 732.08H304.42M256.71 730.58v3M304.42 730.58v3" stroke="#f47a7a" stroke-width="0.8" fill="none"/>
<text x="179.65" y="745.59" font-size="5.1" text-anchor="middle">MDD</text>
<text x="216.7" y="744.89" font-size="5.1" text-anchor="middle">3.52 (-3.17, 10.38)</text>
<path d="M258.5 743.96H287.36M258.5 742.46v3M287.36 742.46v3" stroke="#f47a7a" stroke-width="0.8" fill="none"/>
<text x="179.65" y="757.27" font-size="5.1" text-anchor="middle">BD</text>
<text x="216.7" y="756.57" font-size="5.1" text-anchor="middle">2.29 (-5.48, 9.98)</text>
<path d="M253.58 755.84H286.51M253.58 754.34v3M286.51 754.34v3" stroke="#f47a7a" stroke-width="0.8" fill="none"/>
<text x="179.65" y="768.95" font-size="5.1" text-anchor="middle">AD</text>
<text x="216.7" y="768.25" font-size="5.1" text-anchor="middle">2.85 (-4.13, 9.81)</text>
<path d="M256.45 767.72H286.15M256.45 766.22v3M286.15 766.22v3" stroke="#f47a7a" stroke-width="0.8" fill="none"/>
<line x1="265.25" y1="712.2" x2="265.25" y2="775.2" stroke="#000" stroke-width="0.8" stroke-dasharray="2.1 1.15"/>
<rect x="262.78" y="718.8" width="2.9" height="2.8" rx="0.7" fill="#e8000c"/>
<rect x="278.99" y="730.68" width="2.9" height="2.8" rx="0.7" fill="#e8000c"/>
<rect x="271.3" y="742.56" width="2.9" height="2.8" rx="0.7" fill="#e8000c"/>
<rect x="268.68" y="754.44" width="2.9" height="2.8" rx="0.7" fill="#e8000c"/>
<rect x="269.87" y="766.32" width="2.9" height="2.8" rx="0.7" fill="#e8000c"/>
<path d="M243.4 775.2H307.9M243.95 775.2v1.7M265.25 775.2v1.7M286.55 775.2v1.7M307.85 775.2v1.7" stroke="#000" stroke-width="0.9" fill="none"/>
<text x="243.95" y="782.5" font-size="4.8" class="b" font-weight="bold" text-anchor="middle">-10</text>
<text x="265.25" y="782.5" font-size="4.8" class="b" font-weight="bold" text-anchor="middle">0</text>
<text x="286.55" y="782.5" font-size="4.8" class="b" font-weight="bold" text-anchor="middle">10</text>
<text x="307.85" y="782.5" font-size="4.8" class="b" font-weight="bold" text-anchor="middle">20</text>
<text x="275.6" y="790.3" font-size="5.1" class="b" font-weight="bold" text-anchor="middle">Mean Difference</text>
</g>
<g>
<rect x="318.4" y="10.3" width="61.27" height="31.16" fill="#ee2a24"/>
<rect x="379.37" y="10.3" width="61.27" height="31.16" fill="#dff2f9"/>
<rect x="440.33" y="10.3" width="61.27" height="31.16" fill="#dff2f9"/>
<rect x="501.3" y="10.3" width="61.27" height="31.16" fill="#dff2f9"/>
<rect x="562.27" y="10.3" width="61.27" height="31.16" fill="#dff2f9"/>
<rect x="623.23" y="10.3" width="61.27" height="31.16" fill="#dff2f9"/>
<rect x="318.4" y="41.16" width="61.27" height="31.16" fill="#fdb5a1"/>
<rect x="379.37" y="41.16" width="61.27" height="31.16" fill="#ee2a24"/>
<rect x="440.33" y="41.16" width="61.27" height="31.16" fill="#dff2f9"/>
<rect x="501.3" y="41.16" width="61.27" height="31.16" fill="#dff2f9"/>
<rect x="562.27" y="41.16" width="61.27" height="31.16" fill="#dff2f9"/>
<rect x="623.23" y="41.16" width="61.27" height="31.16" fill="#dff2f9"/>
<rect x="318.4" y="72.02" width="61.27" height="31.16" fill="#fdb5a1"/>
<rect x="379.37" y="72.02" width="61.27" height="31.16" fill="#fdb5a1"/>
<rect x="440.33" y="72.02" width="61.27" height="31.16" fill="#ee2a24"/>
<rect x="501.3" y="72.02" width="61.27" height="31.16" fill="#dff2f9"/>
<rect x="562.27" y="72.02" width="61.27" height="31.16" fill="#dff2f9"/>
<rect x="623.23" y="72.02" width="61.27" height="31.16" fill="#dff2f9"/>
<rect x="318.4" y="102.88" width="61.27" height="31.16" fill="#fdb5a1"/>
<rect x="379.37" y="102.88" width="61.27" height="31.16" fill="#fdb5a1"/>
<rect x="440.33" y="102.88" width="61.27" height="31.16" fill="#fdb5a1"/>
<rect x="501.3" y="102.88" width="61.27" height="31.16" fill="#ee2a24"/>
<rect x="562.27" y="102.88" width="61.27" height="31.16" fill="#dff2f9"/>
<rect x="623.23" y="102.88" width="61.27" height="31.16" fill="#dff2f9"/>
<rect x="318.4" y="133.74" width="61.27" height="31.16" fill="#fdb5a1"/>
<rect x="379.37" y="133.74" width="61.27" height="31.16" fill="#fdb5a1"/>
<rect x="440.33" y="133.74" width="61.27" height="31.16" fill="#fdb5a1"/>
<rect x="501.3" y="133.74" width="61.27" height="31.16" fill="#fdb5a1"/>
<rect x="562.27" y="133.74" width="61.27" height="31.16" fill="#ee2a24"/>
<rect x="623.23" y="133.74" width="61.27" height="31.16" fill="#dff2f9"/>
<rect x="318.4" y="164.6" width="61.27" height="28.9" fill="#fdb5a1"/>
<rect x="379.37" y="164.6" width="61.27" height="28.9" fill="#fdb5a1"/>
<rect x="440.33" y="164.6" width="61.27" height="28.9" fill="#fdb5a1"/>
<rect x="501.3" y="164.6" width="61.27" height="28.9" fill="#fdb5a1"/>
<rect x="562.27" y="164.6" width="61.27" height="28.9" fill="#fdb5a1"/>
<rect x="623.23" y="164.6" width="61.27" height="28.9" fill="#ee2a24"/>
<line x1="318.4" y1="9.65" x2="318.4" y2="193.85" stroke="#000" stroke-width="1.3"/>
<line x1="317.75" y1="10.3" x2="684.85" y2="10.3" stroke="#000" stroke-width="1.3"/>
<line x1="379.37" y1="9.65" x2="379.37" y2="193.85" stroke="#000" stroke-width="1.3"/>
<line x1="317.75" y1="41.16" x2="684.85" y2="41.16" stroke="#000" stroke-width="1.3"/>
<line x1="440.33" y1="9.65" x2="440.33" y2="193.85" stroke="#000" stroke-width="1.3"/>
<line x1="317.75" y1="72.02" x2="684.85" y2="72.02" stroke="#000" stroke-width="1.3"/>
<line x1="501.3" y1="9.65" x2="501.3" y2="193.85" stroke="#000" stroke-width="1.3"/>
<line x1="317.75" y1="102.88" x2="684.85" y2="102.88" stroke="#000" stroke-width="1.3"/>
<line x1="562.27" y1="9.65" x2="562.27" y2="193.85" stroke="#000" stroke-width="1.3"/>
<line x1="317.75" y1="133.74" x2="684.85" y2="133.74" stroke="#000" stroke-width="1.3"/>
<line x1="623.23" y1="9.65" x2="623.23" y2="193.85" stroke="#000" stroke-width="1.3"/>
<line x1="317.75" y1="164.6" x2="684.85" y2="164.6" stroke="#000" stroke-width="1.3"/>
<line x1="684.2" y1="9.65" x2="684.2" y2="193.85" stroke="#000" stroke-width="1.3"/>
<line x1="317.75" y1="193.2" x2="684.85" y2="193.2" stroke="#000" stroke-width="1.3"/>
<text x="349.18" y="28.53" font-size="7.8" class="w" font-weight="bold" fill="#fff" text-anchor="middle">SCZ</text>
<text x="410.15" y="24.13" font-size="6.2" class="m" text-anchor="middle">-0.28</text>
<text x="410.15" y="31.73" font-size="6.2" class="m" text-anchor="middle">(-5.41, 4.86)</text>
<text x="471.12" y="24.13" font-size="6.2" class="m" text-anchor="middle">1.06</text>
<text x="471.12" y="31.73" font-size="6.2" class="m" text-anchor="middle">(-3.48, 5.63)</text>
<text x="532.08" y="24.13" font-size="6.2" class="b" font-weight="bold" text-anchor="middle">-14.77</text>
<text x="532.08" y="31.73" font-size="6.2" class="b" font-weight="bold" text-anchor="middle">(-22.49, -6.99)</text>
<text x="593.05" y="24.13" font-size="6.2" class="m" text-anchor="middle">-1.03</text>
<text x="593.05" y="31.73" font-size="6.2" class="m" text-anchor="middle">(-6.05, 4.14)</text>
<text x="654.02" y="24.13" font-size="6.2" class="m" text-anchor="middle">1.59</text>
<text x="654.02" y="31.73" font-size="6.2" class="m" text-anchor="middle">(-0.63, 3.74)</text>
<text x="349.18" y="54.99" font-size="6.2" class="b" font-weight="bold" text-anchor="middle">-0.52</text>
<text x="349.18" y="62.59" font-size="6.2" class="b" font-weight="bold" text-anchor="middle">(-1.04, -3.35×10<tspan font-size="3.6" dy="-2.2">3</tspan><tspan dy="2.2">)</tspan></text>
<text x="410.15" y="59.39" font-size="7.8" class="w" font-weight="bold" fill="#fff" text-anchor="middle">BD</text>
<text x="471.12" y="54.99" font-size="6.2" class="m" text-anchor="middle">1.32</text>
<text x="471.12" y="62.59" font-size="6.2" class="m" text-anchor="middle">(-4.67, 7.42)</text>
<text x="532.08" y="54.99" font-size="6.2" class="b" font-weight="bold" text-anchor="middle">-14.52</text>
<text x="532.08" y="62.59" font-size="6.2" class="b" font-weight="bold" text-anchor="middle">(-23.44, -5.50)</text>
<text x="593.05" y="54.99" font-size="6.2" class="m" text-anchor="middle">-0.75</text>
<text x="593.05" y="62.59" font-size="6.2" class="m" text-anchor="middle">(-7.46, 6.03)</text>
<text x="654.02" y="54.99" font-size="6.2" class="m" text-anchor="middle">1.84</text>
<text x="654.02" y="62.59" font-size="6.2" class="m" text-anchor="middle">(-3.06, 6.82)</text>
<text x="349.18" y="85.85" font-size="6.2" class="b" font-weight="bold" text-anchor="middle">-0.68</text>
<text x="349.18" y="93.45" font-size="6.2" class="b" font-weight="bold" text-anchor="middle">(-1.24, -0.14)</text>
<text x="410.15" y="85.85" font-size="6.2" class="m" text-anchor="middle">-0.16</text>
<text x="410.15" y="93.45" font-size="6.2" class="m" text-anchor="middle">(-0.84, 0.50)</text>
<text x="471.12" y="90.25" font-size="7.8" class="w" font-weight="bold" fill="#fff" text-anchor="middle">MDD</text>
<text x="532.08" y="85.85" font-size="6.2" class="b" font-weight="bold" text-anchor="middle">-15.82</text>
<text x="532.08" y="93.45" font-size="6.2" class="b" font-weight="bold" text-anchor="middle">(-24.40, -7.29)</text>
<text x="593.05" y="85.85" font-size="6.2" class="m" text-anchor="middle">-2.07</text>
<text x="593.05" y="93.45" font-size="6.2" class="m" text-anchor="middle">(-8.20, 3.94)</text>
<text x="654.02" y="85.85" font-size="6.2" class="m" text-anchor="middle">0.52</text>
<text x="654.02" y="93.45" font-size="6.2" class="m" text-anchor="middle">(-3.60, 4.63)</text>
<text x="349.18" y="116.71" font-size="6.2" class="b" font-weight="bold" text-anchor="middle">-2.11</text>
<text x="349.18" y="124.31" font-size="6.2" class="b" font-weight="bold" text-anchor="middle">(-3.18, -1.02)</text>
<text x="410.15" y="116.71" font-size="6.2" class="b" font-weight="bold" text-anchor="middle">-1.58</text>
<text x="410.15" y="124.31" font-size="6.2" class="b" font-weight="bold" text-anchor="middle">(-2.74, -0.39)</text>
<text x="471.12" y="116.71" font-size="6.2" class="b" font-weight="bold" text-anchor="middle">-1.42</text>
<text x="471.12" y="124.31" font-size="6.2" class="b" font-weight="bold" text-anchor="middle">(-2.57, -0.25)</text>
<text x="532.08" y="121.11" font-size="7.8" class="w" font-weight="bold" fill="#fff" text-anchor="middle">OCD</text>
<text x="593.05" y="116.71" font-size="6.2" class="b" font-weight="bold" text-anchor="middle">13.77</text>
<text x="593.05" y="124.31" font-size="6.2" class="b" font-weight="bold" text-anchor="middle">(5.23, 22.25)</text>
<text x="654.02" y="116.71" font-size="6.2" class="b" font-weight="bold" text-anchor="middle">16.38</text>
<text x="654.02" y="124.31" font-size="6.2" class="b" font-weight="bold" text-anchor="middle">(8.79, 23.88)</text>
<text x="349.18" y="147.57" font-size="6.2" class="m" text-anchor="middle">-0.66</text>
<text x="349.18" y="155.17" font-size="6.2" class="m" text-anchor="middle">(-1.40, 0.07)</text>
<text x="410.15" y="147.57" font-size="6.2" class="m" text-anchor="middle">-0.13</text>
<text x="410.15" y="155.17" font-size="6.2" class="m" text-anchor="middle">(-0.99, 0.73)</text>
<text x="471.12" y="147.57" font-size="6.2" class="m" text-anchor="middle">0.03</text>
<text x="471.12" y="155.17" font-size="6.2" class="m" text-anchor="middle">(-0.82, 0.87)</text>
<text x="532.08" y="147.57" font-size="6.2" class="b" font-weight="bold" text-anchor="middle">1.45</text>
<text x="532.08" y="155.17" font-size="6.2" class="b" font-weight="bold" text-anchor="middle">(0.22, 2.66)</text>
<text x="593.05" y="151.97" font-size="7.8" class="w" font-weight="bold" fill="#fff" text-anchor="middle">AD</text>
<text x="654.02" y="147.57" font-size="6.2" class="m" text-anchor="middle">2.60</text>
<text x="654.02" y="155.17" font-size="6.2" class="m" text-anchor="middle">(-2.02, 7.16)</text>
<text x="349.18" y="177.3" font-size="6.2" class="b" font-weight="bold" text-anchor="middle">-1.27</text>
<text x="349.18" y="184.9" font-size="6.2" class="b" font-weight="bold" text-anchor="middle">(-1.53, -1.01)</text>
<text x="410.15" y="177.3" font-size="6.2" class="b" font-weight="bold" text-anchor="middle">-0.75</text>
<text x="410.15" y="184.9" font-size="6.2" class="b" font-weight="bold" text-anchor="middle">(-1.25, -0.25)</text>
<text x="471.12" y="177.3" font-size="6.2" class="b" font-weight="bold" text-anchor="middle">-0.58</text>
<text x="471.12" y="184.9" font-size="6.2" class="b" font-weight="bold" text-anchor="middle">(-1.09, -0.09)</text>
<text x="532.08" y="177.3" font-size="6.2" class="m" text-anchor="middle">0.84</text>
<text x="532.08" y="184.9" font-size="6.2" class="m" text-anchor="middle">(-0.23, 1.87)</text>
<text x="593.05" y="177.3" font-size="6.2" class="m" text-anchor="middle">-0.61</text>
<text x="593.05" y="184.9" font-size="6.2" class="m" text-anchor="middle">(-1.30, 0.07)</text>
<text x="654.02" y="181.7" font-size="7.8" class="w" font-weight="bold" fill="#fff" text-anchor="middle">HC</text>
</g>
<g>
<rect x="318.4" y="210.7" width="61.27" height="31.16" fill="#ee2a24"/>
<rect x="379.37" y="210.7" width="61.27" height="31.16" fill="#dff2f9"/>
<rect x="440.33" y="210.7" width="61.27" height="31.16" fill="#dff2f9"/>
<rect x="501.3" y="210.7" width="61.27" height="31.16" fill="#dff2f9"/>
<rect x="562.27" y="210.7" width="61.27" height="31.16" fill="#dff2f9"/>
<rect x="623.23" y="210.7" width="61.27" height="31.16" fill="#dff2f9"/>
<rect x="318.4" y="241.56" width="61.27" height="31.16" fill="#fdb5a1"/>
<rect x="379.37" y="241.56" width="61.27" height="31.16" fill="#ee2a24"/>
<rect x="440.33" y="241.56" width="61.27" height="31.16" fill="#dff2f9"/>
<rect x="501.3" y="241.56" width="61.27" height="31.16" fill="#dff2f9"/>
<rect x="562.27" y="241.56" width="61.27" height="31.16" fill="#dff2f9"/>
<rect x="623.23" y="241.56" width="61.27" height="31.16" fill="#dff2f9"/>
<rect x="318.4" y="272.42" width="61.27" height="31.16" fill="#fdb5a1"/>
<rect x="379.37" y="272.42" width="61.27" height="31.16" fill="#fdb5a1"/>
<rect x="440.33" y="272.42" width="61.27" height="31.16" fill="#ee2a24"/>
<rect x="501.3" y="272.42" width="61.27" height="31.16" fill="#dff2f9"/>
<rect x="562.27" y="272.42" width="61.27" height="31.16" fill="#dff2f9"/>
<rect x="623.23" y="272.42" width="61.27" height="31.16" fill="#dff2f9"/>
<rect x="318.4" y="303.28" width="61.27" height="31.16" fill="#fdb5a1"/>
<rect x="379.37" y="303.28" width="61.27" height="31.16" fill="#fdb5a1"/>
<rect x="440.33" y="303.28" width="61.27" height="31.16" fill="#fdb5a1"/>
<rect x="501.3" y="303.28" width="61.27" height="31.16" fill="#ee2a24"/>
<rect x="562.27" y="303.28" width="61.27" height="31.16" fill="#dff2f9"/>
<rect x="623.23" y="303.28" width="61.27" height="31.16" fill="#dff2f9"/>
<rect x="318.4" y="334.14" width="61.27" height="31.16" fill="#fdb5a1"/>
<rect x="379.37" y="334.14" width="61.27" height="31.16" fill="#fdb5a1"/>
<rect x="440.33" y="334.14" width="61.27" height="31.16" fill="#fdb5a1"/>
<rect x="501.3" y="334.14" width="61.27" height="31.16" fill="#fdb5a1"/>
<rect x="562.27" y="334.14" width="61.27" height="31.16" fill="#ee2a24"/>
<rect x="623.23" y="334.14" width="61.27" height="31.16" fill="#dff2f9"/>
<rect x="318.4" y="365" width="61.27" height="28.9" fill="#fdb5a1"/>
<rect x="379.37" y="365" width="61.27" height="28.9" fill="#fdb5a1"/>
<rect x="440.33" y="365" width="61.27" height="28.9" fill="#fdb5a1"/>
<rect x="501.3" y="365" width="61.27" height="28.9" fill="#fdb5a1"/>
<rect x="562.27" y="365" width="61.27" height="28.9" fill="#fdb5a1"/>
<rect x="623.23" y="365" width="61.27" height="28.9" fill="#ee2a24"/>
<line x1="318.4" y1="210.05" x2="318.4" y2="394.25" stroke="#000" stroke-width="1.3"/>
<line x1="317.75" y1="210.7" x2="684.85" y2="210.7" stroke="#000" stroke-width="1.3"/>
<line x1="379.37" y1="210.05" x2="379.37" y2="394.25" stroke="#000" stroke-width="1.3"/>
<line x1="317.75" y1="241.56" x2="684.85" y2="241.56" stroke="#000" stroke-width="1.3"/>
<line x1="440.33" y1="210.05" x2="440.33" y2="394.25" stroke="#000" stroke-width="1.3"/>
<line x1="317.75" y1="272.42" x2="684.85" y2="272.42" stroke="#000" stroke-width="1.3"/>
<line x1="501.3" y1="210.05" x2="501.3" y2="394.25" stroke="#000" stroke-width="1.3"/>
<line x1="317.75" y1="303.28" x2="684.85" y2="303.28" stroke="#000" stroke-width="1.3"/>
<line x1="562.27" y1="210.05" x2="562.27" y2="394.25" stroke="#000" stroke-width="1.3"/>
<line x1="317.75" y1="334.14" x2="684.85" y2="334.14" stroke="#000" stroke-width="1.3"/>
<line x1="623.23" y1="210.05" x2="623.23" y2="394.25" stroke="#000" stroke-width="1.3"/>
<line x1="317.75" y1="365" x2="684.85" y2="365" stroke="#000" stroke-width="1.3"/>
<line x1="684.2" y1="210.05" x2="684.2" y2="394.25" stroke="#000" stroke-width="1.3"/>
<line x1="317.75" y1="393.6" x2="684.85" y2="393.6" stroke="#000" stroke-width="1.3"/>
<text x="349.18" y="228.93" font-size="7.8" class="w" font-weight="bold" fill="#fff" text-anchor="middle">SCZ</text>
<text x="410.15" y="224.53" font-size="6.2" class="m" text-anchor="middle">-1.36</text>
<text x="410.15" y="232.13" font-size="6.2" class="m" text-anchor="middle">(-12.85, 10.12)</text>
<text x="471.12" y="224.53" font-size="6.2" class="m" text-anchor="middle">5.44</text>
<text x="471.12" y="232.13" font-size="6.2" class="m" text-anchor="middle">(-4.14, 14.89)</text>
<text x="532.08" y="224.53" font-size="6.2" class="b" font-weight="bold" text-anchor="middle">13.96</text>
<text x="532.08" y="232.13" font-size="6.2" class="b" font-weight="bold" text-anchor="middle">(1.55, 26.41)</text>
<text x="593.05" y="224.53" font-size="6.2" class="b" font-weight="bold" text-anchor="middle">12.44</text>
<text x="593.05" y="232.13" font-size="6.2" class="b" font-weight="bold" text-anchor="middle">(2.89, 22.26)</text>
<text x="654.02" y="224.53" font-size="6.2" class="b" font-weight="bold" text-anchor="middle">12.30</text>
<text x="654.02" y="232.13" font-size="6.2" class="b" font-weight="bold" text-anchor="middle">(7.25, 17.30)</text>
<text x="349.18" y="255.39" font-size="6.2" class="b" font-weight="bold" text-anchor="middle">-1.15</text>
<text x="349.18" y="262.99" font-size="6.2" class="b" font-weight="bold" text-anchor="middle">(-2.07, -0.25)</text>
<text x="410.15" y="259.79" font-size="7.8" class="w" font-weight="bold" fill="#fff" text-anchor="middle">BD</text>
<text x="471.12" y="255.39" font-size="6.2" class="m" text-anchor="middle">6.76</text>
<text x="471.12" y="262.99" font-size="6.2" class="m" text-anchor="middle">(-6.42, 20.08)</text>
<text x="532.08" y="255.39" font-size="6.2" class="m" text-anchor="middle">15.27</text>
<text x="532.08" y="262.99" font-size="6.2" class="m" text-anchor="middle">(-0.45, 31.36)</text>
<text x="593.05" y="255.39" font-size="6.2" class="b" font-weight="bold" text-anchor="middle">13.79</text>
<text x="593.05" y="262.99" font-size="6.2" class="b" font-weight="bold" text-anchor="middle">(0.10, 27.69)</text>
<text x="654.02" y="255.39" font-size="6.2" class="b" font-weight="bold" text-anchor="middle">13.65</text>
<text x="654.02" y="262.99" font-size="6.2" class="b" font-weight="bold" text-anchor="middle">(2.70, 24.68)</text>
<text x="349.18" y="286.25" font-size="6.2" class="m" text-anchor="middle">-0.55</text>
<text x="349.18" y="293.85" font-size="6.2" class="m" text-anchor="middle">(-1.40, 0.32)</text>
<text x="410.15" y="286.25" font-size="6.2" class="m" text-anchor="middle">0.60</text>
<text x="410.15" y="293.85" font-size="6.2" class="m" text-anchor="middle">(-0.49, 1.74)</text>
<text x="471.12" y="290.65" font-size="7.8" class="w" font-weight="bold" fill="#fff" text-anchor="middle">MDD</text>
<text x="532.08" y="286.25" font-size="6.2" class="m" text-anchor="middle">8.52</text>
<text x="532.08" y="293.85" font-size="6.2" class="m" text-anchor="middle">(-5.21, 22.26)</text>
<text x="593.05" y="286.25" font-size="6.2" class="m" text-anchor="middle">7.04</text>
<text x="593.05" y="293.85" font-size="6.2" class="m" text-anchor="middle">(-4.14, 18.19)</text>
<text x="654.02" y="286.25" font-size="6.2" class="m" text-anchor="middle">6.85</text>
<text x="654.02" y="293.85" font-size="6.2" class="m" text-anchor="middle">(-1.40, 15.17)</text>
<text x="349.18" y="317.11" font-size="6.2" class="m" text-anchor="middle">-0.63</text>
<text x="349.18" y="324.71" font-size="6.2" class="m" text-anchor="middle">(-1.69, 0.46)</text>
<text x="410.15" y="317.11" font-size="6.2" class="m" text-anchor="middle">0.52</text>
<text x="410.15" y="324.71" font-size="6.2" class="m" text-anchor="middle">(-0.77, 1.85)</text>
<text x="471.12" y="317.11" font-size="6.2" class="m" text-anchor="middle">-0.07</text>
<text x="471.12" y="324.71" font-size="6.2" class="m" text-anchor="middle">(-1.30, 1.14)</text>
<text x="532.08" y="321.51" font-size="7.8" class="w" font-weight="bold" fill="#fff" text-anchor="middle">OCD</text>
<text x="593.05" y="317.11" font-size="6.2" class="m" text-anchor="middle">-1.52</text>
<text x="593.05" y="324.71" font-size="6.2" class="m" text-anchor="middle">(-14.68, 11.69)</text>
<text x="654.02" y="317.11" font-size="6.2" class="m" text-anchor="middle">-1.63</text>
<text x="654.02" y="324.71" font-size="6.2" class="m" text-anchor="middle">(-13.23, 9.63)</text>
<text x="349.18" y="347.97" font-size="6.2" class="m" text-anchor="middle">-0.64</text>
<text x="349.18" y="355.57" font-size="6.2" class="m" text-anchor="middle">(-1.64, 0.33)</text>
<text x="410.15" y="347.97" font-size="6.2" class="m" text-anchor="middle">0.51</text>
<text x="410.15" y="355.57" font-size="6.2" class="m" text-anchor="middle">(-0.72, 1.74)</text>
<text x="471.12" y="347.97" font-size="6.2" class="m" text-anchor="middle">-0.09</text>
<text x="471.12" y="355.57" font-size="6.2" class="m" text-anchor="middle">(-1.25, 1.05)</text>
<text x="532.08" y="347.97" font-size="6.2" class="m" text-anchor="middle">-0.02</text>
<text x="532.08" y="355.57" font-size="6.2" class="m" text-anchor="middle">(-1.26, 1.21)</text>
<text x="593.05" y="352.37" font-size="7.8" class="w" font-weight="bold" fill="#fff" text-anchor="middle">AD</text>
<text x="654.02" y="347.97" font-size="6.2" class="m" text-anchor="middle">-0.13</text>
<text x="654.02" y="355.57" font-size="6.2" class="m" text-anchor="middle">(-8.68, 8.12)</text>
<text x="349.18" y="377.7" font-size="6.2" class="b" font-weight="bold" text-anchor="middle">-1.12</text>
<text x="349.18" y="385.3" font-size="6.2" class="b" font-weight="bold" text-anchor="middle">(-1.62, -0.67)</text>
<text x="410.15" y="377.7" font-size="6.2" class="m" text-anchor="middle">0.02</text>
<text x="410.15" y="385.3" font-size="6.2" class="m" text-anchor="middle">(-0.85, 0.90)</text>
<text x="471.12" y="377.7" font-size="6.2" class="m" text-anchor="middle">-0.57</text>
<text x="471.12" y="385.3" font-size="6.2" class="m" text-anchor="middle">(-1.36, 0.16)</text>
<text x="532.08" y="377.7" font-size="6.2" class="m" text-anchor="middle">-0.50</text>
<text x="532.08" y="385.3" font-size="6.2" class="m" text-anchor="middle">(-1.48, 0.44)</text>
<text x="593.05" y="377.7" font-size="6.2" class="m" text-anchor="middle">-0.49</text>
<text x="593.05" y="385.3" font-size="6.2" class="m" text-anchor="middle">(-1.35, 0.37)</text>
<text x="654.02" y="382.1" font-size="7.8" class="w" font-weight="bold" fill="#fff" text-anchor="middle">HC</text>
</g>
<g>
<rect x="318.4" y="411.2" width="61.27" height="31.16" fill="#ee2a24"/>
<rect x="379.37" y="411.2" width="61.27" height="31.16" fill="#dff2f9"/>
<rect x="440.33" y="411.2" width="61.27" height="31.16" fill="#dff2f9"/>
<rect x="501.3" y="411.2" width="61.27" height="31.16" fill="#dff2f9"/>
<rect x="562.27" y="411.2" width="61.27" height="31.16" fill="#dff2f9"/>
<rect x="623.23" y="411.2" width="61.27" height="31.16" fill="#dff2f9"/>
<rect x="318.4" y="442.06" width="61.27" height="31.16" fill="#fdb5a1"/>
<rect x="379.37" y="442.06" width="61.27" height="31.16" fill="#ee2a24"/>
<rect x="440.33" y="442.06" width="61.27" height="31.16" fill="#dff2f9"/>
<rect x="501.3" y="442.06" width="61.27" height="31.16" fill="#dff2f9"/>
<rect x="562.27" y="442.06" width="61.27" height="31.16" fill="#dff2f9"/>
<rect x="623.23" y="442.06" width="61.27" height="31.16" fill="#dff2f9"/>
<rect x="318.4" y="472.92" width="61.27" height="31.16" fill="#fdb5a1"/>
<rect x="379.37" y="472.92" width="61.27" height="31.16" fill="#fdb5a1"/>
<rect x="440.33" y="472.92" width="61.27" height="31.16" fill="#ee2a24"/>
<rect x="501.3" y="472.92" width="61.27" height="31.16" fill="#dff2f9"/>
<rect x="562.27" y="472.92" width="61.27" height="31.16" fill="#dff2f9"/>
<rect x="623.23" y="472.92" width="61.27" height="31.16" fill="#dff2f9"/>
<rect x="318.4" y="503.78" width="61.27" height="31.16" fill="#fdb5a1"/>
<rect x="379.37" y="503.78" width="61.27" height="31.16" fill="#fdb5a1"/>
<rect x="440.33" y="503.78" width="61.27" height="31.16" fill="#fdb5a1"/>
<rect x="501.3" y="503.78" width="61.27" height="31.16" fill="#ee2a24"/>
<rect x="562.27" y="503.78" width="61.27" height="31.16" fill="#dff2f9"/>
<rect x="623.23" y="503.78" width="61.27" height="31.16" fill="#dff2f9"/>
<rect x="318.4" y="534.64" width="61.27" height="31.16" fill="#fdb5a1"/>
<rect x="379.37" y="534.64" width="61.27" height="31.16" fill="#fdb5a1"/>
<rect x="440.33" y="534.64" width="61.27" height="31.16" fill="#fdb5a1"/>
<rect x="501.3" y="534.64" width="61.27" height="31.16" fill="#fdb5a1"/>
<rect x="562.27" y="534.64" width="61.27" height="31.16" fill="#ee2a24"/>
<rect x="623.23" y="534.64" width="61.27" height="31.16" fill="#dff2f9"/>
<rect x="318.4" y="565.5" width="61.27" height="28.9" fill="#fdb5a1"/>
<rect x="379.37" y="565.5" width="61.27" height="28.9" fill="#fdb5a1"/>
<rect x="440.33" y="565.5" width="61.27" height="28.9" fill="#fdb5a1"/>
<rect x="501.3" y="565.5" width="61.27" height="28.9" fill="#fdb5a1"/>
<rect x="562.27" y="565.5" width="61.27" height="28.9" fill="#fdb5a1"/>
<rect x="623.23" y="565.5" width="61.27" height="28.9" fill="#ee2a24"/>
<line x1="318.4" y1="410.55" x2="318.4" y2="594.75" stroke="#000" stroke-width="1.3"/>
<line x1="317.75" y1="411.2" x2="684.85" y2="411.2" stroke="#000" stroke-width="1.3"/>
<line x1="379.37" y1="410.55" x2="379.37" y2="594.75" stroke="#000" stroke-width="1.3"/>
<line x1="317.75" y1="442.06" x2="684.85" y2="442.06" stroke="#000" stroke-width="1.3"/>
<line x1="440.33" y1="410.55" x2="440.33" y2="594.75" stroke="#000" stroke-width="1.3"/>
<line x1="317.75" y1="472.92" x2="684.85" y2="472.92" stroke="#000" stroke-width="1.3"/>
<line x1="501.3" y1="410.55" x2="501.3" y2="594.75" stroke="#000" stroke-width="1.3"/>
<line x1="317.75" y1="503.78" x2="684.85" y2="503.78" stroke="#000" stroke-width="1.3"/>
<line x1="562.27" y1="410.55" x2="562.27" y2="594.75" stroke="#000" stroke-width="1.3"/>
<line x1="317.75" y1="534.64" x2="684.85" y2="534.64" stroke="#000" stroke-width="1.3"/>
<line x1="623.23" y1="410.55" x2="623.23" y2="594.75" stroke="#000" stroke-width="1.3"/>
<line x1="317.75" y1="565.5" x2="684.85" y2="565.5" stroke="#000" stroke-width="1.3"/>
<line x1="684.2" y1="410.55" x2="684.2" y2="594.75" stroke="#000" stroke-width="1.3"/>
<line x1="317.75" y1="594.1" x2="684.85" y2="594.1" stroke="#000" stroke-width="1.3"/>
<text x="349.18" y="429.43" font-size="7.8" class="w" font-weight="bold" fill="#fff" text-anchor="middle">SCZ</text>
<text x="410.15" y="425.03" font-size="6.2" class="m" text-anchor="middle">2.45</text>
<text x="410.15" y="432.63" font-size="6.2" class="m" text-anchor="middle">(-11.11, 15.43)</text>
<text x="471.12" y="425.03" font-size="6.2" class="m" text-anchor="middle">5.59</text>
<text x="471.12" y="432.63" font-size="6.2" class="m" text-anchor="middle">(-6.60, 17.12)</text>
<text x="532.08" y="425.03" font-size="6.2" class="m" text-anchor="middle">0.14</text>
<text x="532.08" y="432.63" font-size="6.2" class="m" text-anchor="middle">(-20.63, 20.64)</text>
<text x="593.05" y="425.03" font-size="6.2" class="m" text-anchor="middle">-2.21</text>
<text x="593.05" y="432.63" font-size="6.2" class="m" text-anchor="middle">(-15.32, 10.48)</text>
<text x="654.02" y="425.03" font-size="6.2" class="m" text-anchor="middle">2.58</text>
<text x="654.02" y="432.63" font-size="6.2" class="m" text-anchor="middle">(-3.28, 8.49)</text>
<text x="349.18" y="455.89" font-size="6.2" class="m" text-anchor="middle">0.78</text>
<text x="349.18" y="463.49" font-size="6.2" class="m" text-anchor="middle">(-1.78, 3.31)</text>
<text x="410.15" y="460.29" font-size="7.8" class="w" font-weight="bold" fill="#fff" text-anchor="middle">BD</text>
<text x="471.12" y="455.89" font-size="6.2" class="m" text-anchor="middle">3.16</text>
<text x="471.12" y="463.49" font-size="6.2" class="m" text-anchor="middle">(-12.75, 18.78)</text>
<text x="532.08" y="455.89" font-size="6.2" class="m" text-anchor="middle">-2.45</text>
<text x="532.08" y="463.49" font-size="6.2" class="m" text-anchor="middle">(-25.25, 21.59)</text>
<text x="593.05" y="455.89" font-size="6.2" class="m" text-anchor="middle">-4.82</text>
<text x="593.05" y="463.49" font-size="6.2" class="m" text-anchor="middle">(-21.47, 12.45)</text>
<text x="654.02" y="455.89" font-size="6.2" class="m" text-anchor="middle">0.08</text>
<text x="654.02" y="463.49" font-size="6.2" class="m" text-anchor="middle">(-11.65, 12.53)</text>
<text x="349.18" y="486.75" font-size="6.2" class="m" text-anchor="middle">-0.20</text>
<text x="349.18" y="494.35" font-size="6.2" class="m" text-anchor="middle">(-2.07, 1.63)</text>
<text x="410.15" y="486.75" font-size="6.2" class="m" text-anchor="middle">-0.99</text>
<text x="410.15" y="494.35" font-size="6.2" class="m" text-anchor="middle">(-3.97, 2.04)</text>
<text x="471.12" y="491.15" font-size="7.8" class="w" font-weight="bold" fill="#fff" text-anchor="middle">MDD</text>
<text x="532.08" y="486.75" font-size="6.2" class="m" text-anchor="middle">-5.52</text>
<text x="532.08" y="494.35" font-size="6.2" class="m" text-anchor="middle">(-27.61, 17.20)</text>
<text x="593.05" y="486.75" font-size="6.2" class="m" text-anchor="middle">-7.94</text>
<text x="593.05" y="494.35" font-size="6.2" class="m" text-anchor="middle">(-23.11, 7.85)</text>
<text x="654.02" y="486.75" font-size="6.2" class="m" text-anchor="middle">-3.04</text>
<text x="654.02" y="494.35" font-size="6.2" class="m" text-anchor="middle">(-12.91, 7.52)</text>
<text x="349.18" y="517.61" font-size="6.2" class="m" text-anchor="middle">-0.64</text>
<text x="349.18" y="525.21" font-size="6.2" class="m" text-anchor="middle">(-3.26, 2.00)</text>
<text x="410.15" y="517.61" font-size="6.2" class="m" text-anchor="middle">-1.42</text>
<text x="410.15" y="525.21" font-size="6.2" class="m" text-anchor="middle">(-5.05, 2.17)</text>
<text x="471.12" y="517.61" font-size="6.2" class="m" text-anchor="middle">-0.45</text>
<text x="471.12" y="525.21" font-size="6.2" class="m" text-anchor="middle">(-3.44, 2.61)</text>
<text x="532.08" y="522.01" font-size="7.8" class="w" font-weight="bold" fill="#fff" text-anchor="middle">OCD</text>
<text x="593.05" y="517.61" font-size="6.2" class="m" text-anchor="middle">-2.42</text>
<text x="593.05" y="525.21" font-size="6.2" class="m" text-anchor="middle">(-22.42, 17.50)</text>
<text x="654.02" y="517.61" font-size="6.2" class="m" text-anchor="middle">2.43</text>
<text x="654.02" y="525.21" font-size="6.2" class="m" text-anchor="middle">(-17.29, 22.47)</text>
<text x="349.18" y="548.47" font-size="6.2" class="m" text-anchor="middle">-0.40</text>
<text x="349.18" y="556.07" font-size="6.2" class="m" text-anchor="middle">(-2.12, 1.31)</text>
<text x="410.15" y="548.47" font-size="6.2" class="m" text-anchor="middle">-1.17</text>
<text x="410.15" y="556.07" font-size="6.2" class="m" text-anchor="middle">(-4.15, 1.77)</text>
<text x="471.12" y="548.47" font-size="6.2" class="m" text-anchor="middle">-0.20</text>
<text x="471.12" y="556.07" font-size="6.2" class="m" text-anchor="middle">(-2.47, 2.08)</text>
<text x="532.08" y="548.47" font-size="6.2" class="m" text-anchor="middle">0.25</text>
<text x="532.08" y="556.07" font-size="6.2" class="m" text-anchor="middle">(-2.48, 2.94)</text>
<text x="593.05" y="552.87" font-size="7.8" class="w" font-weight="bold" fill="#fff" text-anchor="middle">AD</text>
<text x="654.02" y="548.47" font-size="6.2" class="m" text-anchor="middle">4.82</text>
<text x="654.02" y="556.07" font-size="6.2" class="m" text-anchor="middle">(-6.30, 16.44)</text>
<text x="349.18" y="578.2" font-size="6.2" class="m" text-anchor="middle">-0.60</text>
<text x="349.18" y="585.8" font-size="6.2" class="m" text-anchor="middle">(-1.38, 0.16)</text>
<text x="410.15" y="578.2" font-size="6.2" class="m" text-anchor="middle">-1.38</text>
<text x="410.15" y="585.8" font-size="6.2" class="m" text-anchor="middle">(-3.88, 1.15)</text>
<text x="471.12" y="578.2" font-size="6.2" class="m" text-anchor="middle">-0.41</text>
<text x="471.12" y="585.8" font-size="6.2" class="m" text-anchor="middle">(-2.08, 1.31)</text>
<text x="532.08" y="578.2" font-size="6.2" class="m" text-anchor="middle">0.03</text>
<text x="532.08" y="585.8" font-size="6.2" class="m" text-anchor="middle">(-2.50, 2.52)</text>
<text x="593.05" y="578.2" font-size="6.2" class="m" text-anchor="middle">-0.20</text>
<text x="593.05" y="585.8" font-size="6.2" class="m" text-anchor="middle">(-1.76, 1.35)</text>
<text x="654.02" y="582.6" font-size="7.8" class="w" font-weight="bold" fill="#fff" text-anchor="middle">HC</text>
</g>
<g>
<rect x="318.4" y="611.3" width="61.27" height="31.16" fill="#ee2a24"/>
<rect x="379.37" y="611.3" width="61.27" height="31.16" fill="#dff2f9"/>
<rect x="440.33" y="611.3" width="61.27" height="31.16" fill="#dff2f9"/>
<rect x="501.3" y="611.3" width="61.27" height="31.16" fill="#dff2f9"/>
<rect x="562.27" y="611.3" width="61.27" height="31.16" fill="#dff2f9"/>
<rect x="623.23" y="611.3" width="61.27" height="31.16" fill="#dff2f9"/>
<rect x="318.4" y="642.16" width="61.27" height="31.16" fill="#fdb5a1"/>
<rect x="379.37" y="642.16" width="61.27" height="31.16" fill="#ee2a24"/>
<rect x="440.33" y="642.16" width="61.27" height="31.16" fill="#dff2f9"/>
<rect x="501.3" y="642.16" width="61.27" height="31.16" fill="#dff2f9"/>
<rect x="562.27" y="642.16" width="61.27" height="31.16" fill="#dff2f9"/>
<rect x="623.23" y="642.16" width="61.27" height="31.16" fill="#dff2f9"/>
<rect x="318.4" y="673.02" width="61.27" height="31.16" fill="#fdb5a1"/>
<rect x="379.37" y="673.02" width="61.27" height="31.16" fill="#fdb5a1"/>
<rect x="440.33" y="673.02" width="61.27" height="31.16" fill="#ee2a24"/>
<rect x="501.3" y="673.02" width="61.27" height="31.16" fill="#dff2f9"/>
<rect x="562.27" y="673.02" width="61.27" height="31.16" fill="#dff2f9"/>
<rect x="623.23" y="673.02" width="61.27" height="31.16" fill="#dff2f9"/>
<rect x="318.4" y="703.88" width="61.27" height="31.16" fill="#fdb5a1"/>
<rect x="379.37" y="703.88" width="61.27" height="31.16" fill="#fdb5a1"/>
<rect x="440.33" y="703.88" width="61.27" height="31.16" fill="#fdb5a1"/>
<rect x="501.3" y="703.88" width="61.27" height="31.16" fill="#ee2a24"/>
<rect x="562.27" y="703.88" width="61.27" height="31.16" fill="#dff2f9"/>
<rect x="623.23" y="703.88" width="61.27" height="31.16" fill="#dff2f9"/>
<rect x="318.4" y="734.74" width="61.27" height="31.16" fill="#fdb5a1"/>
<rect x="379.37" y="734.74" width="61.27" height="31.16" fill="#fdb5a1"/>
<rect x="440.33" y="734.74" width="61.27" height="31.16" fill="#fdb5a1"/>
<rect x="501.3" y="734.74" width="61.27" height="31.16" fill="#fdb5a1"/>
<rect x="562.27" y="734.74" width="61.27" height="31.16" fill="#ee2a24"/>
<rect x="623.23" y="734.74" width="61.27" height="31.16" fill="#dff2f9"/>
<rect x="318.4" y="765.6" width="61.27" height="28.9" fill="#fdb5a1"/>
<rect x="379.37" y="765.6" width="61.27" height="28.9" fill="#fdb5a1"/>
<rect x="440.33" y="765.6" width="61.27" height="28.9" fill="#fdb5a1"/>
<rect x="501.3" y="765.6" width="61.27" height="28.9" fill="#fdb5a1"/>
<rect x="562.27" y="765.6" width="61.27" height="28.9" fill="#fdb5a1"/>
<rect x="623.23" y="765.6" width="61.27" height="28.9" fill="#ee2a24"/>
<line x1="318.4" y1="610.65" x2="318.4" y2="794.85" stroke="#000" stroke-width="1.3"/>
<line x1="317.75" y1="611.3" x2="684.85" y2="611.3" stroke="#000" stroke-width="1.3"/>
<line x1="379.37" y1="610.65" x2="379.37" y2="794.85" stroke="#000" stroke-width="1.3"/>
<line x1="317.75" y1="642.16" x2="684.85" y2="642.16" stroke="#000" stroke-width="1.3"/>
<line x1="440.33" y1="610.65" x2="440.33" y2="794.85" stroke="#000" stroke-width="1.3"/>
<line x1="317.75" y1="673.02" x2="684.85" y2="673.02" stroke="#000" stroke-width="1.3"/>
<line x1="501.3" y1="610.65" x2="501.3" y2="794.85" stroke="#000" stroke-width="1.3"/>
<line x1="317.75" y1="703.88" x2="684.85" y2="703.88" stroke="#000" stroke-width="1.3"/>
<line x1="562.27" y1="610.65" x2="562.27" y2="794.85" stroke="#000" stroke-width="1.3"/>
<line x1="317.75" y1="734.74" x2="684.85" y2="734.74" stroke="#000" stroke-width="1.3"/>
<line x1="623.23" y1="610.65" x2="623.23" y2="794.85" stroke="#000" stroke-width="1.3"/>
<line x1="317.75" y1="765.6" x2="684.85" y2="765.6" stroke="#000" stroke-width="1.3"/>
<line x1="684.2" y1="610.65" x2="684.2" y2="794.85" stroke="#000" stroke-width="1.3"/>
<line x1="317.75" y1="794.2" x2="684.85" y2="794.2" stroke="#000" stroke-width="1.3"/>
<text x="349.18" y="629.53" font-size="7.8" class="w" font-weight="bold" fill="#fff" text-anchor="middle">SCZ</text>
<text x="410.15" y="625.13" font-size="6.2" class="m" text-anchor="middle">-2.77</text>
<text x="410.15" y="632.73" font-size="6.2" class="m" text-anchor="middle">(-10.90, 5.27)</text>
<text x="471.12" y="625.13" font-size="6.2" class="m" text-anchor="middle">-4.04</text>
<text x="471.12" y="632.73" font-size="6.2" class="m" text-anchor="middle">(-11.52, 3.33)</text>
<text x="532.08" y="625.13" font-size="6.2" class="m" text-anchor="middle">-7.62</text>
<text x="532.08" y="632.73" font-size="6.2" class="m" text-anchor="middle">(-19.52, 4.05)</text>
<text x="593.05" y="625.13" font-size="6.2" class="m" text-anchor="middle">-3.35</text>
<text x="593.05" y="632.73" font-size="6.2" class="m" text-anchor="middle">(-11.16, 4.39)</text>
<text x="654.02" y="625.13" font-size="6.2" class="m" text-anchor="middle">-0.48</text>
<text x="654.02" y="632.73" font-size="6.2" class="m" text-anchor="middle">(-4.07, 3.05)</text>
<text x="349.18" y="655.99" font-size="6.2" class="m" text-anchor="middle">-0.32</text>
<text x="349.18" y="663.59" font-size="6.2" class="m" text-anchor="middle">(-1.06, 0.44)</text>
<text x="410.15" y="660.39" font-size="7.8" class="w" font-weight="bold" fill="#fff" text-anchor="middle">BD</text>
<text x="471.12" y="655.99" font-size="6.2" class="m" text-anchor="middle">-1.25</text>
<text x="471.12" y="663.59" font-size="6.2" class="m" text-anchor="middle">(-10.99, 8.24)</text>
<text x="532.08" y="655.99" font-size="6.2" class="m" text-anchor="middle">-4.87</text>
<text x="532.08" y="663.59" font-size="6.2" class="m" text-anchor="middle">(-18.38, 8.76)</text>
<text x="593.05" y="655.99" font-size="6.2" class="m" text-anchor="middle">-0.54</text>
<text x="593.05" y="663.59" font-size="6.2" class="m" text-anchor="middle">(-11.08, 9.83)</text>
<text x="654.02" y="655.99" font-size="6.2" class="m" text-anchor="middle">2.29</text>
<text x="654.02" y="663.59" font-size="6.2" class="m" text-anchor="middle">(-5.48, 9.98)</text>
<text x="349.18" y="686.85" font-size="6.2" class="m" text-anchor="middle">-0.48</text>
<text x="349.18" y="694.45" font-size="6.2" class="m" text-anchor="middle">(-1.22, 0.29)</text>
<text x="410.15" y="686.85" font-size="6.2" class="m" text-anchor="middle">-0.15</text>
<text x="410.15" y="694.45" font-size="6.2" class="m" text-anchor="middle">(-1.10, 0.79)</text>
<text x="471.12" y="691.25" font-size="7.8" class="w" font-weight="bold" fill="#fff" text-anchor="middle">MDD</text>
<text x="532.08" y="686.85" font-size="6.2" class="m" text-anchor="middle">-3.57</text>
<text x="532.08" y="694.45" font-size="6.2" class="m" text-anchor="middle">(-16.71, 9.33)</text>
<text x="593.05" y="686.85" font-size="6.2" class="m" text-anchor="middle">0.72</text>
<text x="593.05" y="694.45" font-size="6.2" class="m" text-anchor="middle">(-8.63, 10.20)</text>
<text x="654.02" y="686.85" font-size="6.2" class="m" text-anchor="middle">3.52</text>
<text x="654.02" y="694.45" font-size="6.2" class="m" text-anchor="middle">(-3.17, 10.38)</text>
<text x="349.18" y="717.71" font-size="6.2" class="b" font-weight="bold" text-anchor="middle">-1.95</text>
<text x="349.18" y="725.31" font-size="6.2" class="b" font-weight="bold" text-anchor="middle">(-3.10, -0.77)</text>
<text x="410.15" y="717.71" font-size="6.2" class="b" font-weight="bold" text-anchor="middle">-1.63</text>
<text x="410.15" y="725.31" font-size="6.2" class="b" font-weight="bold" text-anchor="middle">(-2.93, -0.29)</text>
<text x="471.12" y="717.71" font-size="6.2" class="b" font-weight="bold" text-anchor="middle">-1.47</text>
<text x="471.12" y="725.31" font-size="6.2" class="b" font-weight="bold" text-anchor="middle">(-2.71, -0.21)</text>
<text x="532.08" y="722.11" font-size="7.8" class="w" font-weight="bold" fill="#fff" text-anchor="middle">OCD</text>
<text x="593.05" y="717.71" font-size="6.2" class="m" text-anchor="middle">4.25</text>
<text x="593.05" y="725.31" font-size="6.2" class="m" text-anchor="middle">(-8.26, 16.90)</text>
<text x="654.02" y="717.71" font-size="6.2" class="m" text-anchor="middle">7.13</text>
<text x="654.02" y="725.31" font-size="6.2" class="m" text-anchor="middle">(-4.01, 18.39)</text>
<text x="349.18" y="748.57" font-size="6.2" class="m" text-anchor="middle">-0.71</text>
<text x="349.18" y="756.17" font-size="6.2" class="m" text-anchor="middle">(-1.52, 0.09)</text>
<text x="410.15" y="748.57" font-size="6.2" class="m" text-anchor="middle">-0.40</text>
<text x="410.15" y="756.17" font-size="6.2" class="m" text-anchor="middle">(-1.42, 0.62)</text>
<text x="471.12" y="748.57" font-size="6.2" class="m" text-anchor="middle">-0.24</text>
<text x="471.12" y="756.17" font-size="6.2" class="m" text-anchor="middle">(-1.18, 0.70)</text>
<text x="532.08" y="748.57" font-size="6.2" class="m" text-anchor="middle">1.24</text>
<text x="532.08" y="756.17" font-size="6.2" class="m" text-anchor="middle">(-0.05, 2.46)</text>
<text x="593.05" y="752.97" font-size="7.8" class="w" font-weight="bold" fill="#fff" text-anchor="middle">AD</text>
<text x="654.02" y="748.57" font-size="6.2" class="m" text-anchor="middle">2.85</text>
<text x="654.02" y="756.17" font-size="6.2" class="m" text-anchor="middle">(-4.13, 9.81)</text>
<text x="349.18" y="778.3" font-size="6.2" class="b" font-weight="bold" text-anchor="middle">-1.03</text>
<text x="349.18" y="785.9" font-size="6.2" class="b" font-weight="bold" text-anchor="middle">(-1.42, -0.63)</text>
<text x="410.15" y="778.3" font-size="6.2" class="m" text-anchor="middle">-0.71</text>
<text x="410.15" y="785.9" font-size="6.2" class="m" text-anchor="middle">(-1.45, 0.01)</text>
<text x="471.12" y="778.3" font-size="6.2" class="m" text-anchor="middle">-0.56</text>
<text x="471.12" y="785.9" font-size="6.2" class="m" text-anchor="middle">(-1.23, 0.11)</text>
<text x="532.08" y="778.3" font-size="6.2" class="m" text-anchor="middle">0.92</text>
<text x="532.08" y="785.9" font-size="6.2" class="m" text-anchor="middle">(-0.20, 2.00)</text>
<text x="593.05" y="778.3" font-size="6.2" class="m" text-anchor="middle">-0.31</text>
<text x="593.05" y="785.9" font-size="6.2" class="m" text-anchor="middle">(-1.03, 0.40)</text>
<text x="654.02" y="782.7" font-size="7.8" class="w" font-weight="bold" fill="#fff" text-anchor="middle">HC</text>
</g>
</svg>
</body></html>
